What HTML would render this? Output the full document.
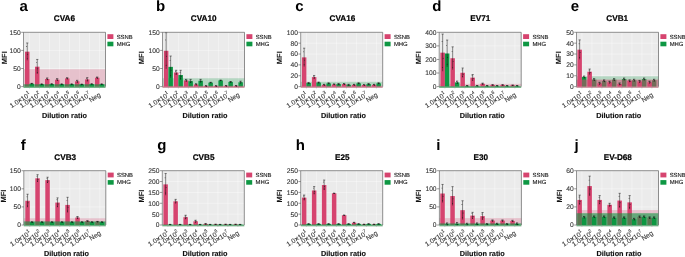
<!DOCTYPE html>
<html><head><meta charset="utf-8"><style>
html,body{margin:0;padding:0;background:#fff;}
svg{display:block;will-change:transform;}
text{font-family:"Liberation Sans", sans-serif;text-rendering:geometricPrecision;}
text.r{stroke-width:0.12px;}
</style></head><body>
<svg width="685" height="257" viewBox="0 0 685 257">
<rect width="685" height="257" fill="#fff"/>
<text x="19.4" y="11.1" font-size="15" font-weight="bold" fill="#000">a</text>
<text x="64.45" y="21.3" font-size="8.2" font-weight="bold" text-anchor="middle" fill="#000" stroke="#000" stroke-width="0.2">CVA6</text>
<text transform="translate(6.55,57.75) rotate(-90)" font-size="7.5" font-weight="bold" text-anchor="middle" fill="#111">MFI</text>
<rect x="23.5" y="32.3" width="82" height="54.3" fill="#EBEBEB"/>
<line x1="23.5" x2="105.5" y1="86.6" y2="86.6" stroke="#fff" stroke-width="0.5" stroke-opacity="0.75"/>
<line x1="23.5" x2="105.5" y1="68.5" y2="68.5" stroke="#fff" stroke-width="0.5" stroke-opacity="0.75"/>
<line x1="23.5" x2="105.5" y1="50.4" y2="50.4" stroke="#fff" stroke-width="0.5" stroke-opacity="0.75"/>
<line x1="23.5" x2="105.5" y1="32.3" y2="32.3" stroke="#fff" stroke-width="0.5" stroke-opacity="0.75"/>
<line x1="29.5" x2="29.5" y1="32.3" y2="86.6" stroke="#fff" stroke-width="0.5" stroke-opacity="0.75"/>
<line x1="39.5" x2="39.5" y1="32.3" y2="86.6" stroke="#fff" stroke-width="0.5" stroke-opacity="0.75"/>
<line x1="49.5" x2="49.5" y1="32.3" y2="86.6" stroke="#fff" stroke-width="0.5" stroke-opacity="0.75"/>
<line x1="59.5" x2="59.5" y1="32.3" y2="86.6" stroke="#fff" stroke-width="0.5" stroke-opacity="0.75"/>
<line x1="69.5" x2="69.5" y1="32.3" y2="86.6" stroke="#fff" stroke-width="0.5" stroke-opacity="0.75"/>
<line x1="79.5" x2="79.5" y1="32.3" y2="86.6" stroke="#fff" stroke-width="0.5" stroke-opacity="0.75"/>
<line x1="89.5" x2="89.5" y1="32.3" y2="86.6" stroke="#fff" stroke-width="0.5" stroke-opacity="0.75"/>
<line x1="99.5" x2="99.5" y1="32.3" y2="86.6" stroke="#fff" stroke-width="0.5" stroke-opacity="0.75"/>
<rect x="23.5" y="69.22" width="82" height="18.68" fill="#D6446F" fill-opacity="0.25"/>
<rect x="25" y="51.67" width="4.5" height="34.93" fill="#D6446F"/>
<rect x="29.5" y="83.7" width="4.5" height="2.9" fill="#0E9743"/>
<rect x="35" y="66.69" width="4.5" height="19.91" fill="#D6446F"/>
<rect x="39.5" y="84.25" width="4.5" height="2.35" fill="#0E9743"/>
<rect x="45" y="79" width="4.5" height="7.6" fill="#D6446F"/>
<rect x="49.5" y="84.07" width="4.5" height="2.53" fill="#0E9743"/>
<rect x="55" y="79.72" width="4.5" height="6.88" fill="#D6446F"/>
<rect x="59.5" y="84.25" width="4.5" height="2.35" fill="#0E9743"/>
<rect x="65" y="78.42" width="4.5" height="8.18" fill="#D6446F"/>
<rect x="69.5" y="84.25" width="4.5" height="2.35" fill="#0E9743"/>
<rect x="75" y="81.35" width="4.5" height="5.25" fill="#D6446F"/>
<rect x="79.5" y="84.43" width="4.5" height="2.17" fill="#0E9743"/>
<rect x="85" y="79.43" width="4.5" height="7.17" fill="#D6446F"/>
<rect x="89.5" y="84.07" width="4.5" height="2.53" fill="#0E9743"/>
<rect x="95" y="77.73" width="4.5" height="8.87" fill="#D6446F"/>
<rect x="99.5" y="84.25" width="4.5" height="2.35" fill="#0E9743"/>
<rect x="23.5" y="84.25" width="82" height="3.65" fill="#0E9743" fill-opacity="0.6"/>
<line x1="27.25" x2="27.25" y1="42.98" y2="60.35" stroke="#000" stroke-width="0.45"/>
<line x1="26.15" x2="28.35" y1="42.98" y2="42.98" stroke="#000" stroke-width="0.45"/>
<circle cx="26.65" cy="46.45" r="0.45" fill="#111"/>
<circle cx="27.75" cy="54.27" r="0.45" fill="#111"/>
<circle cx="27.25" cy="58.62" r="0.45" fill="#111"/>
<line x1="31.75" x2="31.75" y1="83.34" y2="84.07" stroke="#000" stroke-width="0.45"/>
<line x1="30.65" x2="32.85" y1="83.34" y2="83.34" stroke="#000" stroke-width="0.45"/>
<circle cx="31.15" cy="83.49" r="0.45" fill="#111"/>
<circle cx="32.25" cy="83.81" r="0.45" fill="#111"/>
<circle cx="31.75" cy="83.99" r="0.45" fill="#111"/>
<line x1="37.25" x2="37.25" y1="59.45" y2="73.93" stroke="#000" stroke-width="0.45"/>
<line x1="36.15" x2="38.35" y1="59.45" y2="59.45" stroke="#000" stroke-width="0.45"/>
<circle cx="36.65" cy="62.35" r="0.45" fill="#111"/>
<circle cx="37.75" cy="68.86" r="0.45" fill="#111"/>
<circle cx="37.25" cy="72.48" r="0.45" fill="#111"/>
<line x1="41.75" x2="41.75" y1="83.88" y2="84.61" stroke="#000" stroke-width="0.45"/>
<line x1="40.65" x2="42.85" y1="83.88" y2="83.88" stroke="#000" stroke-width="0.45"/>
<circle cx="41.15" cy="84.03" r="0.45" fill="#111"/>
<circle cx="42.25" cy="84.36" r="0.45" fill="#111"/>
<circle cx="41.75" cy="84.54" r="0.45" fill="#111"/>
<line x1="47.25" x2="47.25" y1="77.91" y2="80.08" stroke="#000" stroke-width="0.45"/>
<line x1="46.15" x2="48.35" y1="77.91" y2="77.91" stroke="#000" stroke-width="0.45"/>
<circle cx="46.65" cy="78.35" r="0.45" fill="#111"/>
<circle cx="47.75" cy="79.32" r="0.45" fill="#111"/>
<circle cx="47.25" cy="79.87" r="0.45" fill="#111"/>
<line x1="51.75" x2="51.75" y1="83.7" y2="84.43" stroke="#000" stroke-width="0.45"/>
<line x1="50.65" x2="52.85" y1="83.7" y2="83.7" stroke="#000" stroke-width="0.45"/>
<circle cx="51.15" cy="83.85" r="0.45" fill="#111"/>
<circle cx="52.25" cy="84.17" r="0.45" fill="#111"/>
<circle cx="51.75" cy="84.36" r="0.45" fill="#111"/>
<line x1="57.25" x2="57.25" y1="78.64" y2="80.81" stroke="#000" stroke-width="0.45"/>
<line x1="56.15" x2="58.35" y1="78.64" y2="78.64" stroke="#000" stroke-width="0.45"/>
<circle cx="56.65" cy="79.07" r="0.45" fill="#111"/>
<circle cx="57.75" cy="80.05" r="0.45" fill="#111"/>
<circle cx="57.25" cy="80.59" r="0.45" fill="#111"/>
<line x1="61.75" x2="61.75" y1="83.88" y2="84.61" stroke="#000" stroke-width="0.45"/>
<line x1="60.65" x2="62.85" y1="83.88" y2="83.88" stroke="#000" stroke-width="0.45"/>
<circle cx="61.15" cy="84.03" r="0.45" fill="#111"/>
<circle cx="62.25" cy="84.36" r="0.45" fill="#111"/>
<circle cx="61.75" cy="84.54" r="0.45" fill="#111"/>
<line x1="67.25" x2="67.25" y1="77.69" y2="79.14" stroke="#000" stroke-width="0.45"/>
<line x1="66.15" x2="68.35" y1="77.69" y2="77.69" stroke="#000" stroke-width="0.45"/>
<circle cx="66.65" cy="77.98" r="0.45" fill="#111"/>
<circle cx="67.75" cy="78.64" r="0.45" fill="#111"/>
<circle cx="67.25" cy="79" r="0.45" fill="#111"/>
<line x1="71.75" x2="71.75" y1="83.88" y2="84.61" stroke="#000" stroke-width="0.45"/>
<line x1="70.65" x2="72.85" y1="83.88" y2="83.88" stroke="#000" stroke-width="0.45"/>
<circle cx="71.15" cy="84.03" r="0.45" fill="#111"/>
<circle cx="72.25" cy="84.36" r="0.45" fill="#111"/>
<circle cx="71.75" cy="84.54" r="0.45" fill="#111"/>
<line x1="77.25" x2="77.25" y1="80.27" y2="82.44" stroke="#000" stroke-width="0.45"/>
<line x1="76.15" x2="78.35" y1="80.27" y2="80.27" stroke="#000" stroke-width="0.45"/>
<circle cx="76.65" cy="80.7" r="0.45" fill="#111"/>
<circle cx="77.75" cy="81.68" r="0.45" fill="#111"/>
<circle cx="77.25" cy="82.22" r="0.45" fill="#111"/>
<line x1="81.75" x2="81.75" y1="84.07" y2="84.79" stroke="#000" stroke-width="0.45"/>
<line x1="80.65" x2="82.85" y1="84.07" y2="84.07" stroke="#000" stroke-width="0.45"/>
<circle cx="81.15" cy="84.21" r="0.45" fill="#111"/>
<circle cx="82.25" cy="84.54" r="0.45" fill="#111"/>
<circle cx="81.75" cy="84.72" r="0.45" fill="#111"/>
<line x1="87.25" x2="87.25" y1="77.62" y2="81.24" stroke="#000" stroke-width="0.45"/>
<line x1="86.15" x2="88.35" y1="77.62" y2="77.62" stroke="#000" stroke-width="0.45"/>
<circle cx="86.65" cy="78.35" r="0.45" fill="#111"/>
<circle cx="87.75" cy="79.98" r="0.45" fill="#111"/>
<circle cx="87.25" cy="80.88" r="0.45" fill="#111"/>
<line x1="91.75" x2="91.75" y1="83.7" y2="84.43" stroke="#000" stroke-width="0.45"/>
<line x1="90.65" x2="92.85" y1="83.7" y2="83.7" stroke="#000" stroke-width="0.45"/>
<circle cx="91.15" cy="83.85" r="0.45" fill="#111"/>
<circle cx="92.25" cy="84.17" r="0.45" fill="#111"/>
<circle cx="91.75" cy="84.36" r="0.45" fill="#111"/>
<line x1="97.25" x2="97.25" y1="77.01" y2="78.45" stroke="#000" stroke-width="0.45"/>
<line x1="96.15" x2="98.35" y1="77.01" y2="77.01" stroke="#000" stroke-width="0.45"/>
<circle cx="96.65" cy="77.3" r="0.45" fill="#111"/>
<circle cx="97.75" cy="77.95" r="0.45" fill="#111"/>
<circle cx="97.25" cy="78.31" r="0.45" fill="#111"/>
<line x1="101.75" x2="101.75" y1="83.88" y2="84.61" stroke="#000" stroke-width="0.45"/>
<line x1="100.65" x2="102.85" y1="83.88" y2="83.88" stroke="#000" stroke-width="0.45"/>
<circle cx="101.15" cy="84.03" r="0.45" fill="#111"/>
<circle cx="102.25" cy="84.36" r="0.45" fill="#111"/>
<circle cx="101.75" cy="84.54" r="0.45" fill="#111"/>
<path d="M23.5,32.3H105.5V86.6" fill="none" stroke="#6A6A6A" stroke-width="0.75"/>
<line x1="23.5" x2="23.5" y1="32.3" y2="86.6" stroke="#6A6A6A" stroke-width="0.7"/>
<line x1="21.2" x2="23.5" y1="86.6" y2="86.6" stroke="#363636" stroke-width="0.5"/>
<text x="20.7" y="89.05" font-size="6.7" text-anchor="end" fill="#363636" stroke="#363636" stroke-width="0.12">0</text>
<line x1="21.2" x2="23.5" y1="68.5" y2="68.5" stroke="#363636" stroke-width="0.5"/>
<text x="20.7" y="70.95" font-size="6.7" text-anchor="end" fill="#363636" stroke="#363636" stroke-width="0.12">50</text>
<line x1="21.2" x2="23.5" y1="50.4" y2="50.4" stroke="#363636" stroke-width="0.5"/>
<text x="20.7" y="52.85" font-size="6.7" text-anchor="end" fill="#363636" stroke="#363636" stroke-width="0.12">100</text>
<line x1="21.2" x2="23.5" y1="32.3" y2="32.3" stroke="#363636" stroke-width="0.5"/>
<text x="20.7" y="34.75" font-size="6.7" text-anchor="end" fill="#363636" stroke="#363636" stroke-width="0.12">150</text>
<line x1="29.5" x2="29.5" y1="86.6" y2="88.4" stroke="#999" stroke-width="0.5"/>
<text transform="translate(31.15,95.95) rotate(-32)" font-size="6.7" text-anchor="end" fill="#363636" stroke="#363636" stroke-width="0.1">1.0<tspan font-weight="bold">×</tspan>10<tspan font-size="4.7" dy="-3.3">1</tspan></text>
<line x1="39.5" x2="39.5" y1="86.6" y2="88.4" stroke="#999" stroke-width="0.5"/>
<text transform="translate(41.15,95.95) rotate(-32)" font-size="6.7" text-anchor="end" fill="#363636" stroke="#363636" stroke-width="0.1">1.0<tspan font-weight="bold">×</tspan>10<tspan font-size="4.7" dy="-3.3">2</tspan></text>
<line x1="49.5" x2="49.5" y1="86.6" y2="88.4" stroke="#999" stroke-width="0.5"/>
<text transform="translate(51.15,95.95) rotate(-32)" font-size="6.7" text-anchor="end" fill="#363636" stroke="#363636" stroke-width="0.1">1.0<tspan font-weight="bold">×</tspan>10<tspan font-size="4.7" dy="-3.3">3</tspan></text>
<line x1="59.5" x2="59.5" y1="86.6" y2="88.4" stroke="#999" stroke-width="0.5"/>
<text transform="translate(61.15,95.95) rotate(-32)" font-size="6.7" text-anchor="end" fill="#363636" stroke="#363636" stroke-width="0.1">1.0<tspan font-weight="bold">×</tspan>10<tspan font-size="4.7" dy="-3.3">4</tspan></text>
<line x1="69.5" x2="69.5" y1="86.6" y2="88.4" stroke="#999" stroke-width="0.5"/>
<text transform="translate(71.15,95.95) rotate(-32)" font-size="6.7" text-anchor="end" fill="#363636" stroke="#363636" stroke-width="0.1">1.0<tspan font-weight="bold">×</tspan>10<tspan font-size="4.7" dy="-3.3">5</tspan></text>
<line x1="79.5" x2="79.5" y1="86.6" y2="88.4" stroke="#999" stroke-width="0.5"/>
<text transform="translate(81.15,95.95) rotate(-32)" font-size="6.7" text-anchor="end" fill="#363636" stroke="#363636" stroke-width="0.1">1.0<tspan font-weight="bold">×</tspan>10<tspan font-size="4.7" dy="-3.3">6</tspan></text>
<line x1="89.5" x2="89.5" y1="86.6" y2="88.4" stroke="#999" stroke-width="0.5"/>
<text transform="translate(91.15,95.95) rotate(-32)" font-size="6.7" text-anchor="end" fill="#363636" stroke="#363636" stroke-width="0.1">1.0<tspan font-weight="bold">×</tspan>10<tspan font-size="4.7" dy="-3.3">7</tspan></text>
<line x1="99.5" x2="99.5" y1="86.6" y2="88.4" stroke="#999" stroke-width="0.5"/>
<text transform="translate(101.15,95.95) rotate(-32)" font-size="6.7" text-anchor="end" fill="#363636" stroke="#363636" stroke-width="0.1">Neg</text>
<text x="64.4" y="117.6" font-size="7.3" font-weight="bold" text-anchor="middle" fill="#111" stroke="#111" stroke-width="0.15">Dilution ratio</text>
<rect x="107.4" y="34.2" width="6" height="4.8" fill="#D6446F"/>
<rect x="107.4" y="41.7" width="6" height="4.6" fill="#0E9743"/>
<text x="116.7" y="38.6" font-size="5.9" fill="#1a1a1a" stroke="#1a1a1a" class="r">SSNB</text>
<text x="116.7" y="45.8" font-size="5.9" fill="#1a1a1a" stroke="#1a1a1a" class="r">MHG</text>
<text x="156" y="11.1" font-size="15" font-weight="bold" fill="#000">b</text>
<text x="203.7" y="21.3" font-size="8.2" font-weight="bold" text-anchor="middle" fill="#000" stroke="#000" stroke-width="0.2">CVA10</text>
<text transform="translate(143.95,57.75) rotate(-90)" font-size="7.5" font-weight="bold" text-anchor="middle" fill="#111">MFI</text>
<rect x="162.5" y="32.3" width="82" height="54.3" fill="#EBEBEB"/>
<line x1="162.5" x2="244.5" y1="86.6" y2="86.6" stroke="#fff" stroke-width="0.5" stroke-opacity="0.75"/>
<line x1="162.5" x2="244.5" y1="68.5" y2="68.5" stroke="#fff" stroke-width="0.5" stroke-opacity="0.75"/>
<line x1="162.5" x2="244.5" y1="50.4" y2="50.4" stroke="#fff" stroke-width="0.5" stroke-opacity="0.75"/>
<line x1="162.5" x2="244.5" y1="32.3" y2="32.3" stroke="#fff" stroke-width="0.5" stroke-opacity="0.75"/>
<line x1="168.4" x2="168.4" y1="32.3" y2="86.6" stroke="#fff" stroke-width="0.5" stroke-opacity="0.75"/>
<line x1="178.4" x2="178.4" y1="32.3" y2="86.6" stroke="#fff" stroke-width="0.5" stroke-opacity="0.75"/>
<line x1="188.4" x2="188.4" y1="32.3" y2="86.6" stroke="#fff" stroke-width="0.5" stroke-opacity="0.75"/>
<line x1="198.4" x2="198.4" y1="32.3" y2="86.6" stroke="#fff" stroke-width="0.5" stroke-opacity="0.75"/>
<line x1="208.4" x2="208.4" y1="32.3" y2="86.6" stroke="#fff" stroke-width="0.5" stroke-opacity="0.75"/>
<line x1="218.4" x2="218.4" y1="32.3" y2="86.6" stroke="#fff" stroke-width="0.5" stroke-opacity="0.75"/>
<line x1="228.4" x2="228.4" y1="32.3" y2="86.6" stroke="#fff" stroke-width="0.5" stroke-opacity="0.75"/>
<line x1="238.4" x2="238.4" y1="32.3" y2="86.6" stroke="#fff" stroke-width="0.5" stroke-opacity="0.75"/>
<rect x="162.5" y="78.27" width="82" height="9.63" fill="#0E9743" fill-opacity="0.25"/>
<rect x="163.9" y="50.76" width="4.5" height="35.84" fill="#D6446F"/>
<rect x="168.4" y="66.87" width="4.5" height="19.73" fill="#0E9743"/>
<rect x="173.9" y="72.48" width="4.5" height="14.12" fill="#D6446F"/>
<rect x="178.4" y="75.02" width="4.5" height="11.58" fill="#0E9743"/>
<rect x="183.9" y="80.45" width="4.5" height="6.15" fill="#D6446F"/>
<rect x="188.4" y="81.17" width="4.5" height="5.43" fill="#0E9743"/>
<rect x="193.9" y="84.43" width="4.5" height="2.17" fill="#D6446F"/>
<rect x="198.4" y="80.81" width="4.5" height="5.79" fill="#0E9743"/>
<rect x="203.9" y="85.98" width="4.5" height="0.62" fill="#D6446F"/>
<rect x="208.4" y="82.62" width="4.5" height="3.98" fill="#0E9743"/>
<rect x="213.9" y="85.98" width="4.5" height="0.62" fill="#D6446F"/>
<rect x="218.4" y="80.45" width="4.5" height="6.15" fill="#0E9743"/>
<rect x="223.9" y="85.88" width="4.5" height="0.72" fill="#D6446F"/>
<rect x="228.4" y="81.89" width="4.5" height="4.71" fill="#0E9743"/>
<rect x="233.9" y="85.88" width="4.5" height="0.72" fill="#D6446F"/>
<rect x="238.4" y="82.26" width="4.5" height="4.34" fill="#0E9743"/>
<rect x="162.5" y="85.88" width="82" height="2.02" fill="#D6446F" fill-opacity="0.5"/>
<line x1="166.15" x2="166.15" y1="32.66" y2="68.86" stroke="#000" stroke-width="0.45"/>
<line x1="165.05" x2="167.25" y1="32.66" y2="32.66" stroke="#000" stroke-width="0.45"/>
<circle cx="165.55" cy="39.9" r="0.45" fill="#111"/>
<circle cx="166.65" cy="56.19" r="0.45" fill="#111"/>
<circle cx="166.15" cy="65.24" r="0.45" fill="#111"/>
<line x1="170.65" x2="170.65" y1="56.01" y2="77.73" stroke="#000" stroke-width="0.45"/>
<line x1="169.55" x2="171.75" y1="56.01" y2="56.01" stroke="#000" stroke-width="0.45"/>
<circle cx="170.05" cy="60.35" r="0.45" fill="#111"/>
<circle cx="171.15" cy="70.13" r="0.45" fill="#111"/>
<circle cx="170.65" cy="75.56" r="0.45" fill="#111"/>
<line x1="176.15" x2="176.15" y1="70.31" y2="74.65" stroke="#000" stroke-width="0.45"/>
<line x1="175.05" x2="177.25" y1="70.31" y2="70.31" stroke="#000" stroke-width="0.45"/>
<circle cx="175.55" cy="71.18" r="0.45" fill="#111"/>
<circle cx="176.65" cy="73.13" r="0.45" fill="#111"/>
<circle cx="176.15" cy="74.22" r="0.45" fill="#111"/>
<line x1="180.65" x2="180.65" y1="70.31" y2="79.72" stroke="#000" stroke-width="0.45"/>
<line x1="179.55" x2="181.75" y1="70.31" y2="70.31" stroke="#000" stroke-width="0.45"/>
<circle cx="180.05" cy="72.19" r="0.45" fill="#111"/>
<circle cx="181.15" cy="76.43" r="0.45" fill="#111"/>
<circle cx="180.65" cy="78.78" r="0.45" fill="#111"/>
<line x1="186.15" x2="186.15" y1="79.36" y2="81.53" stroke="#000" stroke-width="0.45"/>
<line x1="185.05" x2="187.25" y1="79.36" y2="79.36" stroke="#000" stroke-width="0.45"/>
<circle cx="185.55" cy="79.79" r="0.45" fill="#111"/>
<circle cx="186.65" cy="80.77" r="0.45" fill="#111"/>
<circle cx="186.15" cy="81.31" r="0.45" fill="#111"/>
<line x1="190.65" x2="190.65" y1="79.36" y2="82.98" stroke="#000" stroke-width="0.45"/>
<line x1="189.55" x2="191.75" y1="79.36" y2="79.36" stroke="#000" stroke-width="0.45"/>
<circle cx="190.05" cy="80.08" r="0.45" fill="#111"/>
<circle cx="191.15" cy="81.71" r="0.45" fill="#111"/>
<circle cx="190.65" cy="82.62" r="0.45" fill="#111"/>
<line x1="196.15" x2="196.15" y1="83.7" y2="85.15" stroke="#000" stroke-width="0.45"/>
<line x1="195.05" x2="197.25" y1="83.7" y2="83.7" stroke="#000" stroke-width="0.45"/>
<circle cx="195.55" cy="83.99" r="0.45" fill="#111"/>
<circle cx="196.65" cy="84.65" r="0.45" fill="#111"/>
<circle cx="196.15" cy="85.01" r="0.45" fill="#111"/>
<line x1="200.65" x2="200.65" y1="79.36" y2="82.26" stroke="#000" stroke-width="0.45"/>
<line x1="199.55" x2="201.75" y1="79.36" y2="79.36" stroke="#000" stroke-width="0.45"/>
<circle cx="200.05" cy="79.94" r="0.45" fill="#111"/>
<circle cx="201.15" cy="81.24" r="0.45" fill="#111"/>
<circle cx="200.65" cy="81.97" r="0.45" fill="#111"/>
<line x1="206.15" x2="206.15" y1="85.62" y2="86.35" stroke="#000" stroke-width="0.45"/>
<line x1="205.05" x2="207.25" y1="85.62" y2="85.62" stroke="#000" stroke-width="0.45"/>
<circle cx="205.55" cy="85.77" r="0.45" fill="#111"/>
<circle cx="206.65" cy="86.09" r="0.45" fill="#111"/>
<circle cx="206.15" cy="86.27" r="0.45" fill="#111"/>
<line x1="210.65" x2="210.65" y1="82.26" y2="82.98" stroke="#000" stroke-width="0.45"/>
<line x1="209.55" x2="211.75" y1="82.26" y2="82.26" stroke="#000" stroke-width="0.45"/>
<circle cx="210.05" cy="82.4" r="0.45" fill="#111"/>
<circle cx="211.15" cy="82.73" r="0.45" fill="#111"/>
<circle cx="210.65" cy="82.91" r="0.45" fill="#111"/>
<line x1="216.15" x2="216.15" y1="85.62" y2="86.35" stroke="#000" stroke-width="0.45"/>
<line x1="215.05" x2="217.25" y1="85.62" y2="85.62" stroke="#000" stroke-width="0.45"/>
<circle cx="215.55" cy="85.77" r="0.45" fill="#111"/>
<circle cx="216.65" cy="86.09" r="0.45" fill="#111"/>
<circle cx="216.15" cy="86.27" r="0.45" fill="#111"/>
<line x1="220.65" x2="220.65" y1="80.08" y2="80.81" stroke="#000" stroke-width="0.45"/>
<line x1="219.55" x2="221.75" y1="80.08" y2="80.08" stroke="#000" stroke-width="0.45"/>
<circle cx="220.05" cy="80.23" r="0.45" fill="#111"/>
<circle cx="221.15" cy="80.55" r="0.45" fill="#111"/>
<circle cx="220.65" cy="80.74" r="0.45" fill="#111"/>
<line x1="226.15" x2="226.15" y1="85.51" y2="86.24" stroke="#000" stroke-width="0.45"/>
<line x1="225.05" x2="227.25" y1="85.51" y2="85.51" stroke="#000" stroke-width="0.45"/>
<circle cx="225.55" cy="85.66" r="0.45" fill="#111"/>
<circle cx="226.65" cy="85.98" r="0.45" fill="#111"/>
<circle cx="226.15" cy="86.17" r="0.45" fill="#111"/>
<line x1="230.65" x2="230.65" y1="81.53" y2="82.26" stroke="#000" stroke-width="0.45"/>
<line x1="229.55" x2="231.75" y1="81.53" y2="81.53" stroke="#000" stroke-width="0.45"/>
<circle cx="230.05" cy="81.68" r="0.45" fill="#111"/>
<circle cx="231.15" cy="82" r="0.45" fill="#111"/>
<circle cx="230.65" cy="82.18" r="0.45" fill="#111"/>
<line x1="236.15" x2="236.15" y1="85.51" y2="86.24" stroke="#000" stroke-width="0.45"/>
<line x1="235.05" x2="237.25" y1="85.51" y2="85.51" stroke="#000" stroke-width="0.45"/>
<circle cx="235.55" cy="85.66" r="0.45" fill="#111"/>
<circle cx="236.65" cy="85.98" r="0.45" fill="#111"/>
<circle cx="236.15" cy="86.17" r="0.45" fill="#111"/>
<line x1="240.65" x2="240.65" y1="81.17" y2="83.34" stroke="#000" stroke-width="0.45"/>
<line x1="239.55" x2="241.75" y1="81.17" y2="81.17" stroke="#000" stroke-width="0.45"/>
<circle cx="240.05" cy="81.6" r="0.45" fill="#111"/>
<circle cx="241.15" cy="82.58" r="0.45" fill="#111"/>
<circle cx="240.65" cy="83.12" r="0.45" fill="#111"/>
<path d="M162.5,32.3H244.5V86.6" fill="none" stroke="#6A6A6A" stroke-width="0.75"/>
<line x1="162.5" x2="162.5" y1="32.3" y2="86.6" stroke="#6A6A6A" stroke-width="0.7"/>
<line x1="160.2" x2="162.5" y1="86.6" y2="86.6" stroke="#363636" stroke-width="0.5"/>
<text x="159.7" y="89.05" font-size="6.7" text-anchor="end" fill="#363636" stroke="#363636" stroke-width="0.12">0</text>
<line x1="160.2" x2="162.5" y1="68.5" y2="68.5" stroke="#363636" stroke-width="0.5"/>
<text x="159.7" y="70.95" font-size="6.7" text-anchor="end" fill="#363636" stroke="#363636" stroke-width="0.12">50</text>
<line x1="160.2" x2="162.5" y1="50.4" y2="50.4" stroke="#363636" stroke-width="0.5"/>
<text x="159.7" y="52.85" font-size="6.7" text-anchor="end" fill="#363636" stroke="#363636" stroke-width="0.12">100</text>
<line x1="160.2" x2="162.5" y1="32.3" y2="32.3" stroke="#363636" stroke-width="0.5"/>
<text x="159.7" y="34.75" font-size="6.7" text-anchor="end" fill="#363636" stroke="#363636" stroke-width="0.12">150</text>
<line x1="168.4" x2="168.4" y1="86.6" y2="88.4" stroke="#999" stroke-width="0.5"/>
<text transform="translate(170.05,95.95) rotate(-32)" font-size="6.7" text-anchor="end" fill="#363636" stroke="#363636" stroke-width="0.1">1.0<tspan font-weight="bold">×</tspan>10<tspan font-size="4.7" dy="-3.3">1</tspan></text>
<line x1="178.4" x2="178.4" y1="86.6" y2="88.4" stroke="#999" stroke-width="0.5"/>
<text transform="translate(180.05,95.95) rotate(-32)" font-size="6.7" text-anchor="end" fill="#363636" stroke="#363636" stroke-width="0.1">1.0<tspan font-weight="bold">×</tspan>10<tspan font-size="4.7" dy="-3.3">2</tspan></text>
<line x1="188.4" x2="188.4" y1="86.6" y2="88.4" stroke="#999" stroke-width="0.5"/>
<text transform="translate(190.05,95.95) rotate(-32)" font-size="6.7" text-anchor="end" fill="#363636" stroke="#363636" stroke-width="0.1">1.0<tspan font-weight="bold">×</tspan>10<tspan font-size="4.7" dy="-3.3">3</tspan></text>
<line x1="198.4" x2="198.4" y1="86.6" y2="88.4" stroke="#999" stroke-width="0.5"/>
<text transform="translate(200.05,95.95) rotate(-32)" font-size="6.7" text-anchor="end" fill="#363636" stroke="#363636" stroke-width="0.1">1.0<tspan font-weight="bold">×</tspan>10<tspan font-size="4.7" dy="-3.3">4</tspan></text>
<line x1="208.4" x2="208.4" y1="86.6" y2="88.4" stroke="#999" stroke-width="0.5"/>
<text transform="translate(210.05,95.95) rotate(-32)" font-size="6.7" text-anchor="end" fill="#363636" stroke="#363636" stroke-width="0.1">1.0<tspan font-weight="bold">×</tspan>10<tspan font-size="4.7" dy="-3.3">5</tspan></text>
<line x1="218.4" x2="218.4" y1="86.6" y2="88.4" stroke="#999" stroke-width="0.5"/>
<text transform="translate(220.05,95.95) rotate(-32)" font-size="6.7" text-anchor="end" fill="#363636" stroke="#363636" stroke-width="0.1">1.0<tspan font-weight="bold">×</tspan>10<tspan font-size="4.7" dy="-3.3">6</tspan></text>
<line x1="228.4" x2="228.4" y1="86.6" y2="88.4" stroke="#999" stroke-width="0.5"/>
<text transform="translate(230.05,95.95) rotate(-32)" font-size="6.7" text-anchor="end" fill="#363636" stroke="#363636" stroke-width="0.1">1.0<tspan font-weight="bold">×</tspan>10<tspan font-size="4.7" dy="-3.3">7</tspan></text>
<line x1="238.4" x2="238.4" y1="86.6" y2="88.4" stroke="#999" stroke-width="0.5"/>
<text transform="translate(240.05,95.95) rotate(-32)" font-size="6.7" text-anchor="end" fill="#363636" stroke="#363636" stroke-width="0.1">Neg</text>
<text x="204.9" y="117.6" font-size="7.3" font-weight="bold" text-anchor="middle" fill="#111" stroke="#111" stroke-width="0.15">Dilution ratio</text>
<rect x="246.4" y="34.2" width="6" height="4.8" fill="#D6446F"/>
<rect x="246.4" y="41.7" width="6" height="4.6" fill="#0E9743"/>
<text x="255.7" y="38.6" font-size="5.9" fill="#1a1a1a" stroke="#1a1a1a" class="r">SSNB</text>
<text x="255.7" y="45.8" font-size="5.9" fill="#1a1a1a" stroke="#1a1a1a" class="r">MHG</text>
<text x="295.2" y="11.1" font-size="15" font-weight="bold" fill="#000">c</text>
<text x="342.4" y="21.3" font-size="8.2" font-weight="bold" text-anchor="middle" fill="#000" stroke="#000" stroke-width="0.2">CVA16</text>
<text transform="translate(282.4,57.75) rotate(-90)" font-size="7.5" font-weight="bold" text-anchor="middle" fill="#111">MFI</text>
<rect x="300.7" y="32.3" width="82" height="54.3" fill="#EBEBEB"/>
<line x1="300.7" x2="382.7" y1="86.6" y2="86.6" stroke="#fff" stroke-width="0.5" stroke-opacity="0.75"/>
<line x1="300.7" x2="382.7" y1="75.74" y2="75.74" stroke="#fff" stroke-width="0.5" stroke-opacity="0.75"/>
<line x1="300.7" x2="382.7" y1="64.88" y2="64.88" stroke="#fff" stroke-width="0.5" stroke-opacity="0.75"/>
<line x1="300.7" x2="382.7" y1="54.02" y2="54.02" stroke="#fff" stroke-width="0.5" stroke-opacity="0.75"/>
<line x1="300.7" x2="382.7" y1="43.16" y2="43.16" stroke="#fff" stroke-width="0.5" stroke-opacity="0.75"/>
<line x1="300.7" x2="382.7" y1="32.3" y2="32.3" stroke="#fff" stroke-width="0.5" stroke-opacity="0.75"/>
<line x1="306.4" x2="306.4" y1="32.3" y2="86.6" stroke="#fff" stroke-width="0.5" stroke-opacity="0.75"/>
<line x1="316.4" x2="316.4" y1="32.3" y2="86.6" stroke="#fff" stroke-width="0.5" stroke-opacity="0.75"/>
<line x1="326.4" x2="326.4" y1="32.3" y2="86.6" stroke="#fff" stroke-width="0.5" stroke-opacity="0.75"/>
<line x1="336.4" x2="336.4" y1="32.3" y2="86.6" stroke="#fff" stroke-width="0.5" stroke-opacity="0.75"/>
<line x1="346.4" x2="346.4" y1="32.3" y2="86.6" stroke="#fff" stroke-width="0.5" stroke-opacity="0.75"/>
<line x1="356.4" x2="356.4" y1="32.3" y2="86.6" stroke="#fff" stroke-width="0.5" stroke-opacity="0.75"/>
<line x1="366.4" x2="366.4" y1="32.3" y2="86.6" stroke="#fff" stroke-width="0.5" stroke-opacity="0.75"/>
<line x1="376.4" x2="376.4" y1="32.3" y2="86.6" stroke="#fff" stroke-width="0.5" stroke-opacity="0.75"/>
<rect x="300.7" y="81.82" width="82" height="6.08" fill="#0E9743" fill-opacity="0.25"/>
<rect x="301.9" y="57.39" width="4.5" height="29.21" fill="#D6446F"/>
<rect x="306.4" y="83.02" width="4.5" height="3.58" fill="#0E9743"/>
<rect x="311.9" y="77.1" width="4.5" height="9.5" fill="#D6446F"/>
<rect x="316.4" y="82.58" width="4.5" height="4.02" fill="#0E9743"/>
<rect x="321.9" y="84.81" width="4.5" height="1.79" fill="#D6446F"/>
<rect x="326.4" y="83.4" width="4.5" height="3.2" fill="#0E9743"/>
<rect x="331.9" y="84.43" width="4.5" height="2.17" fill="#D6446F"/>
<rect x="336.4" y="84.1" width="4.5" height="2.5" fill="#0E9743"/>
<rect x="341.9" y="84.1" width="4.5" height="2.5" fill="#D6446F"/>
<rect x="346.4" y="84.81" width="4.5" height="1.79" fill="#0E9743"/>
<rect x="351.9" y="84.81" width="4.5" height="1.79" fill="#D6446F"/>
<rect x="356.4" y="83.34" width="4.5" height="3.26" fill="#0E9743"/>
<rect x="361.9" y="84.97" width="4.5" height="1.63" fill="#D6446F"/>
<rect x="366.4" y="84.1" width="4.5" height="2.5" fill="#0E9743"/>
<rect x="371.9" y="84.81" width="4.5" height="1.79" fill="#D6446F"/>
<rect x="376.4" y="83.34" width="4.5" height="3.26" fill="#0E9743"/>
<rect x="300.7" y="85.79" width="82" height="2.11" fill="#D6446F" fill-opacity="0.5"/>
<line x1="304.15" x2="304.15" y1="48.16" y2="66.62" stroke="#000" stroke-width="0.45"/>
<line x1="303.05" x2="305.25" y1="48.16" y2="48.16" stroke="#000" stroke-width="0.45"/>
<circle cx="303.55" cy="51.85" r="0.45" fill="#111"/>
<circle cx="304.65" cy="60.16" r="0.45" fill="#111"/>
<circle cx="304.15" cy="64.77" r="0.45" fill="#111"/>
<line x1="308.65" x2="308.65" y1="82.47" y2="83.56" stroke="#000" stroke-width="0.45"/>
<line x1="307.55" x2="309.75" y1="82.47" y2="82.47" stroke="#000" stroke-width="0.45"/>
<circle cx="308.05" cy="82.69" r="0.45" fill="#111"/>
<circle cx="309.15" cy="83.18" r="0.45" fill="#111"/>
<circle cx="308.65" cy="83.45" r="0.45" fill="#111"/>
<line x1="314.15" x2="314.15" y1="75.47" y2="78.73" stroke="#000" stroke-width="0.45"/>
<line x1="313.05" x2="315.25" y1="75.47" y2="75.47" stroke="#000" stroke-width="0.45"/>
<circle cx="313.55" cy="76.12" r="0.45" fill="#111"/>
<circle cx="314.65" cy="77.59" r="0.45" fill="#111"/>
<circle cx="314.15" cy="78.4" r="0.45" fill="#111"/>
<line x1="318.65" x2="318.65" y1="82.04" y2="83.12" stroke="#000" stroke-width="0.45"/>
<line x1="317.55" x2="319.75" y1="82.04" y2="82.04" stroke="#000" stroke-width="0.45"/>
<circle cx="318.05" cy="82.26" r="0.45" fill="#111"/>
<circle cx="319.15" cy="82.74" r="0.45" fill="#111"/>
<circle cx="318.65" cy="83.02" r="0.45" fill="#111"/>
<line x1="324.15" x2="324.15" y1="84.27" y2="85.35" stroke="#000" stroke-width="0.45"/>
<line x1="323.05" x2="325.25" y1="84.27" y2="84.27" stroke="#000" stroke-width="0.45"/>
<circle cx="323.55" cy="84.48" r="0.45" fill="#111"/>
<circle cx="324.65" cy="84.97" r="0.45" fill="#111"/>
<circle cx="324.15" cy="85.24" r="0.45" fill="#111"/>
<line x1="328.65" x2="328.65" y1="82.85" y2="83.94" stroke="#000" stroke-width="0.45"/>
<line x1="327.55" x2="329.75" y1="82.85" y2="82.85" stroke="#000" stroke-width="0.45"/>
<circle cx="328.05" cy="83.07" r="0.45" fill="#111"/>
<circle cx="329.15" cy="83.56" r="0.45" fill="#111"/>
<circle cx="328.65" cy="83.83" r="0.45" fill="#111"/>
<line x1="334.15" x2="334.15" y1="83.88" y2="84.97" stroke="#000" stroke-width="0.45"/>
<line x1="333.05" x2="335.25" y1="83.88" y2="83.88" stroke="#000" stroke-width="0.45"/>
<circle cx="333.55" cy="84.1" r="0.45" fill="#111"/>
<circle cx="334.65" cy="84.59" r="0.45" fill="#111"/>
<circle cx="334.15" cy="84.86" r="0.45" fill="#111"/>
<line x1="338.65" x2="338.65" y1="83.56" y2="84.65" stroke="#000" stroke-width="0.45"/>
<line x1="337.55" x2="339.75" y1="83.56" y2="83.56" stroke="#000" stroke-width="0.45"/>
<circle cx="338.05" cy="83.78" r="0.45" fill="#111"/>
<circle cx="339.15" cy="84.27" r="0.45" fill="#111"/>
<circle cx="338.65" cy="84.54" r="0.45" fill="#111"/>
<line x1="344.15" x2="344.15" y1="83.56" y2="84.65" stroke="#000" stroke-width="0.45"/>
<line x1="343.05" x2="345.25" y1="83.56" y2="83.56" stroke="#000" stroke-width="0.45"/>
<circle cx="343.55" cy="83.78" r="0.45" fill="#111"/>
<circle cx="344.65" cy="84.27" r="0.45" fill="#111"/>
<circle cx="344.15" cy="84.54" r="0.45" fill="#111"/>
<line x1="348.65" x2="348.65" y1="84.27" y2="85.35" stroke="#000" stroke-width="0.45"/>
<line x1="347.55" x2="349.75" y1="84.27" y2="84.27" stroke="#000" stroke-width="0.45"/>
<circle cx="348.05" cy="84.48" r="0.45" fill="#111"/>
<circle cx="349.15" cy="84.97" r="0.45" fill="#111"/>
<circle cx="348.65" cy="85.24" r="0.45" fill="#111"/>
<line x1="354.15" x2="354.15" y1="84.27" y2="85.35" stroke="#000" stroke-width="0.45"/>
<line x1="353.05" x2="355.25" y1="84.27" y2="84.27" stroke="#000" stroke-width="0.45"/>
<circle cx="353.55" cy="84.48" r="0.45" fill="#111"/>
<circle cx="354.65" cy="84.97" r="0.45" fill="#111"/>
<circle cx="354.15" cy="85.24" r="0.45" fill="#111"/>
<line x1="358.65" x2="358.65" y1="82.8" y2="83.88" stroke="#000" stroke-width="0.45"/>
<line x1="357.55" x2="359.75" y1="82.8" y2="82.8" stroke="#000" stroke-width="0.45"/>
<circle cx="358.05" cy="83.02" r="0.45" fill="#111"/>
<circle cx="359.15" cy="83.5" r="0.45" fill="#111"/>
<circle cx="358.65" cy="83.78" r="0.45" fill="#111"/>
<line x1="364.15" x2="364.15" y1="84.43" y2="85.51" stroke="#000" stroke-width="0.45"/>
<line x1="363.05" x2="365.25" y1="84.43" y2="84.43" stroke="#000" stroke-width="0.45"/>
<circle cx="363.55" cy="84.65" r="0.45" fill="#111"/>
<circle cx="364.65" cy="85.13" r="0.45" fill="#111"/>
<circle cx="364.15" cy="85.41" r="0.45" fill="#111"/>
<line x1="368.65" x2="368.65" y1="83.56" y2="84.65" stroke="#000" stroke-width="0.45"/>
<line x1="367.55" x2="369.75" y1="83.56" y2="83.56" stroke="#000" stroke-width="0.45"/>
<circle cx="368.05" cy="83.78" r="0.45" fill="#111"/>
<circle cx="369.15" cy="84.27" r="0.45" fill="#111"/>
<circle cx="368.65" cy="84.54" r="0.45" fill="#111"/>
<line x1="374.15" x2="374.15" y1="84.27" y2="85.35" stroke="#000" stroke-width="0.45"/>
<line x1="373.05" x2="375.25" y1="84.27" y2="84.27" stroke="#000" stroke-width="0.45"/>
<circle cx="373.55" cy="84.48" r="0.45" fill="#111"/>
<circle cx="374.65" cy="84.97" r="0.45" fill="#111"/>
<circle cx="374.15" cy="85.24" r="0.45" fill="#111"/>
<line x1="378.65" x2="378.65" y1="82.8" y2="83.88" stroke="#000" stroke-width="0.45"/>
<line x1="377.55" x2="379.75" y1="82.8" y2="82.8" stroke="#000" stroke-width="0.45"/>
<circle cx="378.05" cy="83.02" r="0.45" fill="#111"/>
<circle cx="379.15" cy="83.5" r="0.45" fill="#111"/>
<circle cx="378.65" cy="83.78" r="0.45" fill="#111"/>
<path d="M300.7,32.3H382.7V86.6" fill="none" stroke="#6A6A6A" stroke-width="0.75"/>
<line x1="300.7" x2="300.7" y1="32.3" y2="86.6" stroke="#6A6A6A" stroke-width="0.7"/>
<line x1="298.4" x2="300.7" y1="86.6" y2="86.6" stroke="#363636" stroke-width="0.5"/>
<text x="297.9" y="89.05" font-size="6.7" text-anchor="end" fill="#363636" stroke="#363636" stroke-width="0.12">0</text>
<line x1="298.4" x2="300.7" y1="75.74" y2="75.74" stroke="#363636" stroke-width="0.5"/>
<text x="297.9" y="78.19" font-size="6.7" text-anchor="end" fill="#363636" stroke="#363636" stroke-width="0.12">20</text>
<line x1="298.4" x2="300.7" y1="64.88" y2="64.88" stroke="#363636" stroke-width="0.5"/>
<text x="297.9" y="67.33" font-size="6.7" text-anchor="end" fill="#363636" stroke="#363636" stroke-width="0.12">40</text>
<line x1="298.4" x2="300.7" y1="54.02" y2="54.02" stroke="#363636" stroke-width="0.5"/>
<text x="297.9" y="56.47" font-size="6.7" text-anchor="end" fill="#363636" stroke="#363636" stroke-width="0.12">60</text>
<line x1="298.4" x2="300.7" y1="43.16" y2="43.16" stroke="#363636" stroke-width="0.5"/>
<text x="297.9" y="45.61" font-size="6.7" text-anchor="end" fill="#363636" stroke="#363636" stroke-width="0.12">80</text>
<line x1="298.4" x2="300.7" y1="32.3" y2="32.3" stroke="#363636" stroke-width="0.5"/>
<text x="297.9" y="34.75" font-size="6.7" text-anchor="end" fill="#363636" stroke="#363636" stroke-width="0.12">100</text>
<line x1="306.4" x2="306.4" y1="86.6" y2="88.4" stroke="#999" stroke-width="0.5"/>
<text transform="translate(308.05,95.95) rotate(-32)" font-size="6.7" text-anchor="end" fill="#363636" stroke="#363636" stroke-width="0.1">1.0<tspan font-weight="bold">×</tspan>10<tspan font-size="4.7" dy="-3.3">1</tspan></text>
<line x1="316.4" x2="316.4" y1="86.6" y2="88.4" stroke="#999" stroke-width="0.5"/>
<text transform="translate(318.05,95.95) rotate(-32)" font-size="6.7" text-anchor="end" fill="#363636" stroke="#363636" stroke-width="0.1">1.0<tspan font-weight="bold">×</tspan>10<tspan font-size="4.7" dy="-3.3">2</tspan></text>
<line x1="326.4" x2="326.4" y1="86.6" y2="88.4" stroke="#999" stroke-width="0.5"/>
<text transform="translate(328.05,95.95) rotate(-32)" font-size="6.7" text-anchor="end" fill="#363636" stroke="#363636" stroke-width="0.1">1.0<tspan font-weight="bold">×</tspan>10<tspan font-size="4.7" dy="-3.3">3</tspan></text>
<line x1="336.4" x2="336.4" y1="86.6" y2="88.4" stroke="#999" stroke-width="0.5"/>
<text transform="translate(338.05,95.95) rotate(-32)" font-size="6.7" text-anchor="end" fill="#363636" stroke="#363636" stroke-width="0.1">1.0<tspan font-weight="bold">×</tspan>10<tspan font-size="4.7" dy="-3.3">4</tspan></text>
<line x1="346.4" x2="346.4" y1="86.6" y2="88.4" stroke="#999" stroke-width="0.5"/>
<text transform="translate(348.05,95.95) rotate(-32)" font-size="6.7" text-anchor="end" fill="#363636" stroke="#363636" stroke-width="0.1">1.0<tspan font-weight="bold">×</tspan>10<tspan font-size="4.7" dy="-3.3">5</tspan></text>
<line x1="356.4" x2="356.4" y1="86.6" y2="88.4" stroke="#999" stroke-width="0.5"/>
<text transform="translate(358.05,95.95) rotate(-32)" font-size="6.7" text-anchor="end" fill="#363636" stroke="#363636" stroke-width="0.1">1.0<tspan font-weight="bold">×</tspan>10<tspan font-size="4.7" dy="-3.3">6</tspan></text>
<line x1="366.4" x2="366.4" y1="86.6" y2="88.4" stroke="#999" stroke-width="0.5"/>
<text transform="translate(368.05,95.95) rotate(-32)" font-size="6.7" text-anchor="end" fill="#363636" stroke="#363636" stroke-width="0.1">1.0<tspan font-weight="bold">×</tspan>10<tspan font-size="4.7" dy="-3.3">7</tspan></text>
<line x1="376.4" x2="376.4" y1="86.6" y2="88.4" stroke="#999" stroke-width="0.5"/>
<text transform="translate(378.05,95.95) rotate(-32)" font-size="6.7" text-anchor="end" fill="#363636" stroke="#363636" stroke-width="0.1">Neg</text>
<text x="343.4" y="117.6" font-size="7.3" font-weight="bold" text-anchor="middle" fill="#111" stroke="#111" stroke-width="0.15">Dilution ratio</text>
<rect x="384.6" y="34.2" width="6" height="4.8" fill="#D6446F"/>
<rect x="384.6" y="41.7" width="6" height="4.6" fill="#0E9743"/>
<text x="393.9" y="38.6" font-size="5.9" fill="#1a1a1a" stroke="#1a1a1a" class="r">SSNB</text>
<text x="393.9" y="45.8" font-size="5.9" fill="#1a1a1a" stroke="#1a1a1a" class="r">MHG</text>
<text x="432.2" y="11.1" font-size="15" font-weight="bold" fill="#000">d</text>
<text x="480.3" y="21.3" font-size="8.2" font-weight="bold" text-anchor="middle" fill="#000" stroke="#000" stroke-width="0.2">EV71</text>
<text transform="translate(420.7,57.75) rotate(-90)" font-size="7.5" font-weight="bold" text-anchor="middle" fill="#111">MFI</text>
<rect x="439.2" y="32.3" width="82" height="54.3" fill="#EBEBEB"/>
<line x1="439.2" x2="521.2" y1="86.6" y2="86.6" stroke="#fff" stroke-width="0.5" stroke-opacity="0.75"/>
<line x1="439.2" x2="521.2" y1="73.02" y2="73.02" stroke="#fff" stroke-width="0.5" stroke-opacity="0.75"/>
<line x1="439.2" x2="521.2" y1="59.45" y2="59.45" stroke="#fff" stroke-width="0.5" stroke-opacity="0.75"/>
<line x1="439.2" x2="521.2" y1="45.88" y2="45.88" stroke="#fff" stroke-width="0.5" stroke-opacity="0.75"/>
<line x1="439.2" x2="521.2" y1="32.3" y2="32.3" stroke="#fff" stroke-width="0.5" stroke-opacity="0.75"/>
<line x1="444.9" x2="444.9" y1="32.3" y2="86.6" stroke="#fff" stroke-width="0.5" stroke-opacity="0.75"/>
<line x1="454.9" x2="454.9" y1="32.3" y2="86.6" stroke="#fff" stroke-width="0.5" stroke-opacity="0.75"/>
<line x1="464.9" x2="464.9" y1="32.3" y2="86.6" stroke="#fff" stroke-width="0.5" stroke-opacity="0.75"/>
<line x1="474.9" x2="474.9" y1="32.3" y2="86.6" stroke="#fff" stroke-width="0.5" stroke-opacity="0.75"/>
<line x1="484.9" x2="484.9" y1="32.3" y2="86.6" stroke="#fff" stroke-width="0.5" stroke-opacity="0.75"/>
<line x1="494.9" x2="494.9" y1="32.3" y2="86.6" stroke="#fff" stroke-width="0.5" stroke-opacity="0.75"/>
<line x1="504.9" x2="504.9" y1="32.3" y2="86.6" stroke="#fff" stroke-width="0.5" stroke-opacity="0.75"/>
<line x1="514.9" x2="514.9" y1="32.3" y2="86.6" stroke="#fff" stroke-width="0.5" stroke-opacity="0.75"/>
<rect x="439.2" y="83.88" width="82" height="4.01" fill="#D6446F" fill-opacity="0.25"/>
<rect x="440.4" y="52.66" width="4.5" height="33.94" fill="#D6446F"/>
<rect x="444.9" y="53.48" width="4.5" height="33.12" fill="#0E9743"/>
<rect x="450.4" y="58.23" width="4.5" height="28.37" fill="#D6446F"/>
<rect x="454.9" y="82.39" width="4.5" height="4.21" fill="#0E9743"/>
<rect x="460.4" y="72.75" width="4.5" height="13.85" fill="#D6446F"/>
<rect x="464.9" y="85.79" width="4.5" height="0.81" fill="#0E9743"/>
<rect x="470.4" y="77.64" width="4.5" height="8.96" fill="#D6446F"/>
<rect x="474.9" y="85.79" width="4.5" height="0.81" fill="#0E9743"/>
<rect x="480.4" y="83.75" width="4.5" height="2.85" fill="#D6446F"/>
<rect x="484.9" y="85.79" width="4.5" height="0.81" fill="#0E9743"/>
<rect x="490.4" y="84.97" width="4.5" height="1.63" fill="#D6446F"/>
<rect x="494.9" y="85.79" width="4.5" height="0.81" fill="#0E9743"/>
<rect x="500.4" y="84.97" width="4.5" height="1.63" fill="#D6446F"/>
<rect x="504.9" y="85.79" width="4.5" height="0.81" fill="#0E9743"/>
<rect x="510.4" y="85.24" width="4.5" height="1.36" fill="#D6446F"/>
<rect x="514.9" y="85.79" width="4.5" height="0.81" fill="#0E9743"/>
<rect x="439.2" y="86.19" width="82" height="1.71" fill="#0E9743" fill-opacity="0.6"/>
<line x1="442.65" x2="442.65" y1="34.06" y2="71.26" stroke="#000" stroke-width="0.45"/>
<line x1="441.55" x2="443.75" y1="34.06" y2="34.06" stroke="#000" stroke-width="0.45"/>
<circle cx="442.05" cy="41.5" r="0.45" fill="#111"/>
<circle cx="443.15" cy="58.24" r="0.45" fill="#111"/>
<circle cx="442.65" cy="67.54" r="0.45" fill="#111"/>
<line x1="447.15" x2="447.15" y1="40.04" y2="66.92" stroke="#000" stroke-width="0.45"/>
<line x1="446.05" x2="448.25" y1="40.04" y2="40.04" stroke="#000" stroke-width="0.45"/>
<circle cx="446.55" cy="45.41" r="0.45" fill="#111"/>
<circle cx="447.65" cy="57.51" r="0.45" fill="#111"/>
<circle cx="447.15" cy="64.23" r="0.45" fill="#111"/>
<line x1="452.65" x2="452.65" y1="46.83" y2="69.63" stroke="#000" stroke-width="0.45"/>
<line x1="451.55" x2="453.75" y1="46.83" y2="46.83" stroke="#000" stroke-width="0.45"/>
<circle cx="452.05" cy="51.39" r="0.45" fill="#111"/>
<circle cx="453.15" cy="61.65" r="0.45" fill="#111"/>
<circle cx="452.65" cy="67.35" r="0.45" fill="#111"/>
<line x1="457.15" x2="457.15" y1="81.03" y2="83.75" stroke="#000" stroke-width="0.45"/>
<line x1="456.05" x2="458.25" y1="81.03" y2="81.03" stroke="#000" stroke-width="0.45"/>
<circle cx="456.55" cy="81.58" r="0.45" fill="#111"/>
<circle cx="457.65" cy="82.8" r="0.45" fill="#111"/>
<circle cx="457.15" cy="83.48" r="0.45" fill="#111"/>
<line x1="462.65" x2="462.65" y1="68" y2="77.5" stroke="#000" stroke-width="0.45"/>
<line x1="461.55" x2="463.75" y1="68" y2="68" stroke="#000" stroke-width="0.45"/>
<circle cx="462.05" cy="69.9" r="0.45" fill="#111"/>
<circle cx="463.15" cy="74.18" r="0.45" fill="#111"/>
<circle cx="462.65" cy="76.55" r="0.45" fill="#111"/>
<line x1="467.15" x2="467.15" y1="85.51" y2="86.06" stroke="#000" stroke-width="0.45"/>
<line x1="466.05" x2="468.25" y1="85.51" y2="85.51" stroke="#000" stroke-width="0.45"/>
<circle cx="466.55" cy="85.62" r="0.45" fill="#111"/>
<circle cx="467.65" cy="85.87" r="0.45" fill="#111"/>
<circle cx="467.15" cy="86" r="0.45" fill="#111"/>
<line x1="472.65" x2="472.65" y1="74.52" y2="80.76" stroke="#000" stroke-width="0.45"/>
<line x1="471.55" x2="473.75" y1="74.52" y2="74.52" stroke="#000" stroke-width="0.45"/>
<circle cx="472.05" cy="75.77" r="0.45" fill="#111"/>
<circle cx="473.15" cy="78.58" r="0.45" fill="#111"/>
<circle cx="472.65" cy="80.14" r="0.45" fill="#111"/>
<line x1="477.15" x2="477.15" y1="85.51" y2="86.06" stroke="#000" stroke-width="0.45"/>
<line x1="476.05" x2="478.25" y1="85.51" y2="85.51" stroke="#000" stroke-width="0.45"/>
<circle cx="476.55" cy="85.62" r="0.45" fill="#111"/>
<circle cx="477.65" cy="85.87" r="0.45" fill="#111"/>
<circle cx="477.15" cy="86" r="0.45" fill="#111"/>
<line x1="482.65" x2="482.65" y1="83.07" y2="84.43" stroke="#000" stroke-width="0.45"/>
<line x1="481.55" x2="483.75" y1="83.07" y2="83.07" stroke="#000" stroke-width="0.45"/>
<circle cx="482.05" cy="83.34" r="0.45" fill="#111"/>
<circle cx="483.15" cy="83.95" r="0.45" fill="#111"/>
<circle cx="482.65" cy="84.29" r="0.45" fill="#111"/>
<line x1="487.15" x2="487.15" y1="85.51" y2="86.06" stroke="#000" stroke-width="0.45"/>
<line x1="486.05" x2="488.25" y1="85.51" y2="85.51" stroke="#000" stroke-width="0.45"/>
<circle cx="486.55" cy="85.62" r="0.45" fill="#111"/>
<circle cx="487.65" cy="85.87" r="0.45" fill="#111"/>
<circle cx="487.15" cy="86" r="0.45" fill="#111"/>
<line x1="492.65" x2="492.65" y1="84.7" y2="85.24" stroke="#000" stroke-width="0.45"/>
<line x1="491.55" x2="493.75" y1="84.7" y2="84.7" stroke="#000" stroke-width="0.45"/>
<circle cx="492.05" cy="84.81" r="0.45" fill="#111"/>
<circle cx="493.15" cy="85.05" r="0.45" fill="#111"/>
<circle cx="492.65" cy="85.19" r="0.45" fill="#111"/>
<line x1="497.15" x2="497.15" y1="85.51" y2="86.06" stroke="#000" stroke-width="0.45"/>
<line x1="496.05" x2="498.25" y1="85.51" y2="85.51" stroke="#000" stroke-width="0.45"/>
<circle cx="496.55" cy="85.62" r="0.45" fill="#111"/>
<circle cx="497.65" cy="85.87" r="0.45" fill="#111"/>
<circle cx="497.15" cy="86" r="0.45" fill="#111"/>
<line x1="502.65" x2="502.65" y1="84.7" y2="85.24" stroke="#000" stroke-width="0.45"/>
<line x1="501.55" x2="503.75" y1="84.7" y2="84.7" stroke="#000" stroke-width="0.45"/>
<circle cx="502.05" cy="84.81" r="0.45" fill="#111"/>
<circle cx="503.15" cy="85.05" r="0.45" fill="#111"/>
<circle cx="502.65" cy="85.19" r="0.45" fill="#111"/>
<line x1="507.15" x2="507.15" y1="85.51" y2="86.06" stroke="#000" stroke-width="0.45"/>
<line x1="506.05" x2="508.25" y1="85.51" y2="85.51" stroke="#000" stroke-width="0.45"/>
<circle cx="506.55" cy="85.62" r="0.45" fill="#111"/>
<circle cx="507.65" cy="85.87" r="0.45" fill="#111"/>
<circle cx="507.15" cy="86" r="0.45" fill="#111"/>
<line x1="512.65" x2="512.65" y1="84.97" y2="85.51" stroke="#000" stroke-width="0.45"/>
<line x1="511.55" x2="513.75" y1="84.97" y2="84.97" stroke="#000" stroke-width="0.45"/>
<circle cx="512.05" cy="85.08" r="0.45" fill="#111"/>
<circle cx="513.15" cy="85.32" r="0.45" fill="#111"/>
<circle cx="512.65" cy="85.46" r="0.45" fill="#111"/>
<line x1="517.15" x2="517.15" y1="85.51" y2="86.06" stroke="#000" stroke-width="0.45"/>
<line x1="516.05" x2="518.25" y1="85.51" y2="85.51" stroke="#000" stroke-width="0.45"/>
<circle cx="516.55" cy="85.62" r="0.45" fill="#111"/>
<circle cx="517.65" cy="85.87" r="0.45" fill="#111"/>
<circle cx="517.15" cy="86" r="0.45" fill="#111"/>
<path d="M439.2,32.3H521.2V86.6" fill="none" stroke="#6A6A6A" stroke-width="0.75"/>
<line x1="439.2" x2="439.2" y1="32.3" y2="86.6" stroke="#6A6A6A" stroke-width="0.7"/>
<line x1="436.9" x2="439.2" y1="86.6" y2="86.6" stroke="#363636" stroke-width="0.5"/>
<text x="436.4" y="89.05" font-size="6.7" text-anchor="end" fill="#363636" stroke="#363636" stroke-width="0.12">0</text>
<line x1="436.9" x2="439.2" y1="73.02" y2="73.02" stroke="#363636" stroke-width="0.5"/>
<text x="436.4" y="75.47" font-size="6.7" text-anchor="end" fill="#363636" stroke="#363636" stroke-width="0.12">100</text>
<line x1="436.9" x2="439.2" y1="59.45" y2="59.45" stroke="#363636" stroke-width="0.5"/>
<text x="436.4" y="61.9" font-size="6.7" text-anchor="end" fill="#363636" stroke="#363636" stroke-width="0.12">200</text>
<line x1="436.9" x2="439.2" y1="45.88" y2="45.88" stroke="#363636" stroke-width="0.5"/>
<text x="436.4" y="48.33" font-size="6.7" text-anchor="end" fill="#363636" stroke="#363636" stroke-width="0.12">300</text>
<line x1="436.9" x2="439.2" y1="32.3" y2="32.3" stroke="#363636" stroke-width="0.5"/>
<text x="436.4" y="34.75" font-size="6.7" text-anchor="end" fill="#363636" stroke="#363636" stroke-width="0.12">400</text>
<line x1="444.9" x2="444.9" y1="86.6" y2="88.4" stroke="#999" stroke-width="0.5"/>
<text transform="translate(446.55,95.95) rotate(-32)" font-size="6.7" text-anchor="end" fill="#363636" stroke="#363636" stroke-width="0.1">1.0<tspan font-weight="bold">×</tspan>10<tspan font-size="4.7" dy="-3.3">1</tspan></text>
<line x1="454.9" x2="454.9" y1="86.6" y2="88.4" stroke="#999" stroke-width="0.5"/>
<text transform="translate(456.55,95.95) rotate(-32)" font-size="6.7" text-anchor="end" fill="#363636" stroke="#363636" stroke-width="0.1">1.0<tspan font-weight="bold">×</tspan>10<tspan font-size="4.7" dy="-3.3">2</tspan></text>
<line x1="464.9" x2="464.9" y1="86.6" y2="88.4" stroke="#999" stroke-width="0.5"/>
<text transform="translate(466.55,95.95) rotate(-32)" font-size="6.7" text-anchor="end" fill="#363636" stroke="#363636" stroke-width="0.1">1.0<tspan font-weight="bold">×</tspan>10<tspan font-size="4.7" dy="-3.3">3</tspan></text>
<line x1="474.9" x2="474.9" y1="86.6" y2="88.4" stroke="#999" stroke-width="0.5"/>
<text transform="translate(476.55,95.95) rotate(-32)" font-size="6.7" text-anchor="end" fill="#363636" stroke="#363636" stroke-width="0.1">1.0<tspan font-weight="bold">×</tspan>10<tspan font-size="4.7" dy="-3.3">4</tspan></text>
<line x1="484.9" x2="484.9" y1="86.6" y2="88.4" stroke="#999" stroke-width="0.5"/>
<text transform="translate(486.55,95.95) rotate(-32)" font-size="6.7" text-anchor="end" fill="#363636" stroke="#363636" stroke-width="0.1">1.0<tspan font-weight="bold">×</tspan>10<tspan font-size="4.7" dy="-3.3">5</tspan></text>
<line x1="494.9" x2="494.9" y1="86.6" y2="88.4" stroke="#999" stroke-width="0.5"/>
<text transform="translate(496.55,95.95) rotate(-32)" font-size="6.7" text-anchor="end" fill="#363636" stroke="#363636" stroke-width="0.1">1.0<tspan font-weight="bold">×</tspan>10<tspan font-size="4.7" dy="-3.3">6</tspan></text>
<line x1="504.9" x2="504.9" y1="86.6" y2="88.4" stroke="#999" stroke-width="0.5"/>
<text transform="translate(506.55,95.95) rotate(-32)" font-size="6.7" text-anchor="end" fill="#363636" stroke="#363636" stroke-width="0.1">1.0<tspan font-weight="bold">×</tspan>10<tspan font-size="4.7" dy="-3.3">7</tspan></text>
<line x1="514.9" x2="514.9" y1="86.6" y2="88.4" stroke="#999" stroke-width="0.5"/>
<text transform="translate(516.55,95.95) rotate(-32)" font-size="6.7" text-anchor="end" fill="#363636" stroke="#363636" stroke-width="0.1">Neg</text>
<text x="482.2" y="117.6" font-size="7.3" font-weight="bold" text-anchor="middle" fill="#111" stroke="#111" stroke-width="0.15">Dilution ratio</text>
<rect x="523.1" y="34.2" width="6" height="4.8" fill="#D6446F"/>
<rect x="523.1" y="41.7" width="6" height="4.6" fill="#0E9743"/>
<text x="532.4" y="38.6" font-size="5.9" fill="#1a1a1a" stroke="#1a1a1a" class="r">SSNB</text>
<text x="532.4" y="45.8" font-size="5.9" fill="#1a1a1a" stroke="#1a1a1a" class="r">MHG</text>
<text x="570.8" y="11.1" font-size="15" font-weight="bold" fill="#000">e</text>
<text x="617.2" y="21.3" font-size="8.2" font-weight="bold" text-anchor="middle" fill="#000" stroke="#000" stroke-width="0.2">CVB1</text>
<text transform="translate(561.4,57.75) rotate(-90)" font-size="7.5" font-weight="bold" text-anchor="middle" fill="#111">MFI</text>
<rect x="576.5" y="32.3" width="82" height="54.3" fill="#EBEBEB"/>
<line x1="576.5" x2="658.5" y1="86.6" y2="86.6" stroke="#fff" stroke-width="0.5" stroke-opacity="0.75"/>
<line x1="576.5" x2="658.5" y1="75.74" y2="75.74" stroke="#fff" stroke-width="0.5" stroke-opacity="0.75"/>
<line x1="576.5" x2="658.5" y1="64.88" y2="64.88" stroke="#fff" stroke-width="0.5" stroke-opacity="0.75"/>
<line x1="576.5" x2="658.5" y1="54.02" y2="54.02" stroke="#fff" stroke-width="0.5" stroke-opacity="0.75"/>
<line x1="576.5" x2="658.5" y1="43.16" y2="43.16" stroke="#fff" stroke-width="0.5" stroke-opacity="0.75"/>
<line x1="576.5" x2="658.5" y1="32.3" y2="32.3" stroke="#fff" stroke-width="0.5" stroke-opacity="0.75"/>
<line x1="581.9" x2="581.9" y1="32.3" y2="86.6" stroke="#fff" stroke-width="0.5" stroke-opacity="0.75"/>
<line x1="591.9" x2="591.9" y1="32.3" y2="86.6" stroke="#fff" stroke-width="0.5" stroke-opacity="0.75"/>
<line x1="601.9" x2="601.9" y1="32.3" y2="86.6" stroke="#fff" stroke-width="0.5" stroke-opacity="0.75"/>
<line x1="611.9" x2="611.9" y1="32.3" y2="86.6" stroke="#fff" stroke-width="0.5" stroke-opacity="0.75"/>
<line x1="621.9" x2="621.9" y1="32.3" y2="86.6" stroke="#fff" stroke-width="0.5" stroke-opacity="0.75"/>
<line x1="631.9" x2="631.9" y1="32.3" y2="86.6" stroke="#fff" stroke-width="0.5" stroke-opacity="0.75"/>
<line x1="641.9" x2="641.9" y1="32.3" y2="86.6" stroke="#fff" stroke-width="0.5" stroke-opacity="0.75"/>
<line x1="651.9" x2="651.9" y1="32.3" y2="86.6" stroke="#fff" stroke-width="0.5" stroke-opacity="0.75"/>
<rect x="576.5" y="76.28" width="82" height="11.62" fill="#0E9743" fill-opacity="0.25"/>
<rect x="577.4" y="49.68" width="4.5" height="36.92" fill="#D6446F"/>
<rect x="581.9" y="77.04" width="4.5" height="9.56" fill="#0E9743"/>
<rect x="587.4" y="71.72" width="4.5" height="14.88" fill="#D6446F"/>
<rect x="591.9" y="79.65" width="4.5" height="6.95" fill="#0E9743"/>
<rect x="597.4" y="83.34" width="4.5" height="3.26" fill="#D6446F"/>
<rect x="601.9" y="80.95" width="4.5" height="5.65" fill="#0E9743"/>
<rect x="607.4" y="82.26" width="4.5" height="4.34" fill="#D6446F"/>
<rect x="611.9" y="79.65" width="4.5" height="6.95" fill="#0E9743"/>
<rect x="617.4" y="83.99" width="4.5" height="2.61" fill="#D6446F"/>
<rect x="621.9" y="79.11" width="4.5" height="7.49" fill="#0E9743"/>
<rect x="627.4" y="80.95" width="4.5" height="5.65" fill="#D6446F"/>
<rect x="631.9" y="80.3" width="4.5" height="6.3" fill="#0E9743"/>
<rect x="637.4" y="81.5" width="4.5" height="5.1" fill="#D6446F"/>
<rect x="641.9" y="79.11" width="4.5" height="7.49" fill="#0E9743"/>
<rect x="647.4" y="82.26" width="4.5" height="4.34" fill="#D6446F"/>
<rect x="651.9" y="80.3" width="4.5" height="6.3" fill="#0E9743"/>
<rect x="576.5" y="79.65" width="82" height="8.25" fill="#D6446F" fill-opacity="0.5"/>
<line x1="579.65" x2="579.65" y1="39.9" y2="59.45" stroke="#000" stroke-width="0.45"/>
<line x1="578.55" x2="580.75" y1="39.9" y2="39.9" stroke="#000" stroke-width="0.45"/>
<circle cx="579.05" cy="43.81" r="0.45" fill="#111"/>
<circle cx="580.15" cy="52.61" r="0.45" fill="#111"/>
<circle cx="579.65" cy="57.5" r="0.45" fill="#111"/>
<line x1="584.15" x2="584.15" y1="75.96" y2="78.13" stroke="#000" stroke-width="0.45"/>
<line x1="583.05" x2="585.25" y1="75.96" y2="75.96" stroke="#000" stroke-width="0.45"/>
<circle cx="583.55" cy="76.39" r="0.45" fill="#111"/>
<circle cx="584.65" cy="77.37" r="0.45" fill="#111"/>
<circle cx="584.15" cy="77.91" r="0.45" fill="#111"/>
<line x1="589.65" x2="589.65" y1="69.01" y2="74.44" stroke="#000" stroke-width="0.45"/>
<line x1="588.55" x2="590.75" y1="69.01" y2="69.01" stroke="#000" stroke-width="0.45"/>
<circle cx="589.05" cy="70.09" r="0.45" fill="#111"/>
<circle cx="590.15" cy="72.54" r="0.45" fill="#111"/>
<circle cx="589.65" cy="73.89" r="0.45" fill="#111"/>
<line x1="594.15" x2="594.15" y1="78.56" y2="80.74" stroke="#000" stroke-width="0.45"/>
<line x1="593.05" x2="595.25" y1="78.56" y2="78.56" stroke="#000" stroke-width="0.45"/>
<circle cx="593.55" cy="79" r="0.45" fill="#111"/>
<circle cx="594.65" cy="79.98" r="0.45" fill="#111"/>
<circle cx="594.15" cy="80.52" r="0.45" fill="#111"/>
<line x1="599.65" x2="599.65" y1="82.26" y2="84.43" stroke="#000" stroke-width="0.45"/>
<line x1="598.55" x2="600.75" y1="82.26" y2="82.26" stroke="#000" stroke-width="0.45"/>
<circle cx="599.05" cy="82.69" r="0.45" fill="#111"/>
<circle cx="600.15" cy="83.67" r="0.45" fill="#111"/>
<circle cx="599.65" cy="84.21" r="0.45" fill="#111"/>
<line x1="604.15" x2="604.15" y1="79.87" y2="82.04" stroke="#000" stroke-width="0.45"/>
<line x1="603.05" x2="605.25" y1="79.87" y2="79.87" stroke="#000" stroke-width="0.45"/>
<circle cx="603.55" cy="80.3" r="0.45" fill="#111"/>
<circle cx="604.65" cy="81.28" r="0.45" fill="#111"/>
<circle cx="604.15" cy="81.82" r="0.45" fill="#111"/>
<line x1="609.65" x2="609.65" y1="81.17" y2="83.34" stroke="#000" stroke-width="0.45"/>
<line x1="608.55" x2="610.75" y1="81.17" y2="81.17" stroke="#000" stroke-width="0.45"/>
<circle cx="609.05" cy="81.6" r="0.45" fill="#111"/>
<circle cx="610.15" cy="82.58" r="0.45" fill="#111"/>
<circle cx="609.65" cy="83.12" r="0.45" fill="#111"/>
<line x1="614.15" x2="614.15" y1="78.56" y2="80.74" stroke="#000" stroke-width="0.45"/>
<line x1="613.05" x2="615.25" y1="78.56" y2="78.56" stroke="#000" stroke-width="0.45"/>
<circle cx="613.55" cy="79" r="0.45" fill="#111"/>
<circle cx="614.65" cy="79.98" r="0.45" fill="#111"/>
<circle cx="614.15" cy="80.52" r="0.45" fill="#111"/>
<line x1="619.65" x2="619.65" y1="82.91" y2="85.08" stroke="#000" stroke-width="0.45"/>
<line x1="618.55" x2="620.75" y1="82.91" y2="82.91" stroke="#000" stroke-width="0.45"/>
<circle cx="619.05" cy="83.34" r="0.45" fill="#111"/>
<circle cx="620.15" cy="84.32" r="0.45" fill="#111"/>
<circle cx="619.65" cy="84.86" r="0.45" fill="#111"/>
<line x1="624.15" x2="624.15" y1="78.02" y2="80.19" stroke="#000" stroke-width="0.45"/>
<line x1="623.05" x2="625.25" y1="78.02" y2="78.02" stroke="#000" stroke-width="0.45"/>
<circle cx="623.55" cy="78.45" r="0.45" fill="#111"/>
<circle cx="624.65" cy="79.43" r="0.45" fill="#111"/>
<circle cx="624.15" cy="79.98" r="0.45" fill="#111"/>
<line x1="629.65" x2="629.65" y1="79.87" y2="82.04" stroke="#000" stroke-width="0.45"/>
<line x1="628.55" x2="630.75" y1="79.87" y2="79.87" stroke="#000" stroke-width="0.45"/>
<circle cx="629.05" cy="80.3" r="0.45" fill="#111"/>
<circle cx="630.15" cy="81.28" r="0.45" fill="#111"/>
<circle cx="629.65" cy="81.82" r="0.45" fill="#111"/>
<line x1="634.15" x2="634.15" y1="79.22" y2="81.39" stroke="#000" stroke-width="0.45"/>
<line x1="633.05" x2="635.25" y1="79.22" y2="79.22" stroke="#000" stroke-width="0.45"/>
<circle cx="633.55" cy="79.65" r="0.45" fill="#111"/>
<circle cx="634.65" cy="80.63" r="0.45" fill="#111"/>
<circle cx="634.15" cy="81.17" r="0.45" fill="#111"/>
<line x1="639.65" x2="639.65" y1="80.41" y2="82.58" stroke="#000" stroke-width="0.45"/>
<line x1="638.55" x2="640.75" y1="80.41" y2="80.41" stroke="#000" stroke-width="0.45"/>
<circle cx="639.05" cy="80.84" r="0.45" fill="#111"/>
<circle cx="640.15" cy="81.82" r="0.45" fill="#111"/>
<circle cx="639.65" cy="82.36" r="0.45" fill="#111"/>
<line x1="644.15" x2="644.15" y1="78.02" y2="80.19" stroke="#000" stroke-width="0.45"/>
<line x1="643.05" x2="645.25" y1="78.02" y2="78.02" stroke="#000" stroke-width="0.45"/>
<circle cx="643.55" cy="78.45" r="0.45" fill="#111"/>
<circle cx="644.65" cy="79.43" r="0.45" fill="#111"/>
<circle cx="644.15" cy="79.98" r="0.45" fill="#111"/>
<line x1="649.65" x2="649.65" y1="81.17" y2="83.34" stroke="#000" stroke-width="0.45"/>
<line x1="648.55" x2="650.75" y1="81.17" y2="81.17" stroke="#000" stroke-width="0.45"/>
<circle cx="649.05" cy="81.6" r="0.45" fill="#111"/>
<circle cx="650.15" cy="82.58" r="0.45" fill="#111"/>
<circle cx="649.65" cy="83.12" r="0.45" fill="#111"/>
<line x1="654.15" x2="654.15" y1="79.22" y2="81.39" stroke="#000" stroke-width="0.45"/>
<line x1="653.05" x2="655.25" y1="79.22" y2="79.22" stroke="#000" stroke-width="0.45"/>
<circle cx="653.55" cy="79.65" r="0.45" fill="#111"/>
<circle cx="654.65" cy="80.63" r="0.45" fill="#111"/>
<circle cx="654.15" cy="81.17" r="0.45" fill="#111"/>
<path d="M576.5,32.3H658.5V86.6" fill="none" stroke="#6A6A6A" stroke-width="0.75"/>
<line x1="576.5" x2="576.5" y1="32.3" y2="86.6" stroke="#6A6A6A" stroke-width="0.7"/>
<line x1="574.2" x2="576.5" y1="86.6" y2="86.6" stroke="#363636" stroke-width="0.5"/>
<text x="573.7" y="89.05" font-size="6.7" text-anchor="end" fill="#363636" stroke="#363636" stroke-width="0.12">0</text>
<line x1="574.2" x2="576.5" y1="75.74" y2="75.74" stroke="#363636" stroke-width="0.5"/>
<text x="573.7" y="78.19" font-size="6.7" text-anchor="end" fill="#363636" stroke="#363636" stroke-width="0.12">10</text>
<line x1="574.2" x2="576.5" y1="64.88" y2="64.88" stroke="#363636" stroke-width="0.5"/>
<text x="573.7" y="67.33" font-size="6.7" text-anchor="end" fill="#363636" stroke="#363636" stroke-width="0.12">20</text>
<line x1="574.2" x2="576.5" y1="54.02" y2="54.02" stroke="#363636" stroke-width="0.5"/>
<text x="573.7" y="56.47" font-size="6.7" text-anchor="end" fill="#363636" stroke="#363636" stroke-width="0.12">30</text>
<line x1="574.2" x2="576.5" y1="43.16" y2="43.16" stroke="#363636" stroke-width="0.5"/>
<text x="573.7" y="45.61" font-size="6.7" text-anchor="end" fill="#363636" stroke="#363636" stroke-width="0.12">40</text>
<line x1="574.2" x2="576.5" y1="32.3" y2="32.3" stroke="#363636" stroke-width="0.5"/>
<text x="573.7" y="34.75" font-size="6.7" text-anchor="end" fill="#363636" stroke="#363636" stroke-width="0.12">50</text>
<line x1="581.9" x2="581.9" y1="86.6" y2="88.4" stroke="#999" stroke-width="0.5"/>
<text transform="translate(583.55,95.95) rotate(-32)" font-size="6.7" text-anchor="end" fill="#363636" stroke="#363636" stroke-width="0.1">1.0<tspan font-weight="bold">×</tspan>10<tspan font-size="4.7" dy="-3.3">1</tspan></text>
<line x1="591.9" x2="591.9" y1="86.6" y2="88.4" stroke="#999" stroke-width="0.5"/>
<text transform="translate(593.55,95.95) rotate(-32)" font-size="6.7" text-anchor="end" fill="#363636" stroke="#363636" stroke-width="0.1">1.0<tspan font-weight="bold">×</tspan>10<tspan font-size="4.7" dy="-3.3">2</tspan></text>
<line x1="601.9" x2="601.9" y1="86.6" y2="88.4" stroke="#999" stroke-width="0.5"/>
<text transform="translate(603.55,95.95) rotate(-32)" font-size="6.7" text-anchor="end" fill="#363636" stroke="#363636" stroke-width="0.1">1.0<tspan font-weight="bold">×</tspan>10<tspan font-size="4.7" dy="-3.3">3</tspan></text>
<line x1="611.9" x2="611.9" y1="86.6" y2="88.4" stroke="#999" stroke-width="0.5"/>
<text transform="translate(613.55,95.95) rotate(-32)" font-size="6.7" text-anchor="end" fill="#363636" stroke="#363636" stroke-width="0.1">1.0<tspan font-weight="bold">×</tspan>10<tspan font-size="4.7" dy="-3.3">4</tspan></text>
<line x1="621.9" x2="621.9" y1="86.6" y2="88.4" stroke="#999" stroke-width="0.5"/>
<text transform="translate(623.55,95.95) rotate(-32)" font-size="6.7" text-anchor="end" fill="#363636" stroke="#363636" stroke-width="0.1">1.0<tspan font-weight="bold">×</tspan>10<tspan font-size="4.7" dy="-3.3">5</tspan></text>
<line x1="631.9" x2="631.9" y1="86.6" y2="88.4" stroke="#999" stroke-width="0.5"/>
<text transform="translate(633.55,95.95) rotate(-32)" font-size="6.7" text-anchor="end" fill="#363636" stroke="#363636" stroke-width="0.1">1.0<tspan font-weight="bold">×</tspan>10<tspan font-size="4.7" dy="-3.3">6</tspan></text>
<line x1="641.9" x2="641.9" y1="86.6" y2="88.4" stroke="#999" stroke-width="0.5"/>
<text transform="translate(643.55,95.95) rotate(-32)" font-size="6.7" text-anchor="end" fill="#363636" stroke="#363636" stroke-width="0.1">1.0<tspan font-weight="bold">×</tspan>10<tspan font-size="4.7" dy="-3.3">7</tspan></text>
<line x1="651.9" x2="651.9" y1="86.6" y2="88.4" stroke="#999" stroke-width="0.5"/>
<text transform="translate(653.55,95.95) rotate(-32)" font-size="6.7" text-anchor="end" fill="#363636" stroke="#363636" stroke-width="0.1">Neg</text>
<text x="618.7" y="117.6" font-size="7.3" font-weight="bold" text-anchor="middle" fill="#111" stroke="#111" stroke-width="0.15">Dilution ratio</text>
<rect x="660.4" y="34.2" width="6" height="4.8" fill="#D6446F"/>
<rect x="660.4" y="41.7" width="6" height="4.6" fill="#0E9743"/>
<text x="669.7" y="38.6" font-size="5.9" fill="#1a1a1a" stroke="#1a1a1a" class="r">SSNB</text>
<text x="669.7" y="45.8" font-size="5.9" fill="#1a1a1a" stroke="#1a1a1a" class="r">MHG</text>
<text x="20.8" y="149.5" font-size="15" font-weight="bold" fill="#000">f</text>
<text x="65.2" y="159.8" font-size="8.2" font-weight="bold" text-anchor="middle" fill="#000" stroke="#000" stroke-width="0.2">CVB3</text>
<text transform="translate(5.95,196.15) rotate(-90)" font-size="7.5" font-weight="bold" text-anchor="middle" fill="#111">MFI</text>
<rect x="23.8" y="170.7" width="82" height="54.3" fill="#EBEBEB"/>
<line x1="23.8" x2="105.8" y1="225" y2="225" stroke="#fff" stroke-width="0.5" stroke-opacity="0.75"/>
<line x1="23.8" x2="105.8" y1="206.9" y2="206.9" stroke="#fff" stroke-width="0.5" stroke-opacity="0.75"/>
<line x1="23.8" x2="105.8" y1="188.8" y2="188.8" stroke="#fff" stroke-width="0.5" stroke-opacity="0.75"/>
<line x1="23.8" x2="105.8" y1="170.7" y2="170.7" stroke="#fff" stroke-width="0.5" stroke-opacity="0.75"/>
<line x1="29.8" x2="29.8" y1="170.7" y2="225" stroke="#fff" stroke-width="0.5" stroke-opacity="0.75"/>
<line x1="39.8" x2="39.8" y1="170.7" y2="225" stroke="#fff" stroke-width="0.5" stroke-opacity="0.75"/>
<line x1="49.8" x2="49.8" y1="170.7" y2="225" stroke="#fff" stroke-width="0.5" stroke-opacity="0.75"/>
<line x1="59.8" x2="59.8" y1="170.7" y2="225" stroke="#fff" stroke-width="0.5" stroke-opacity="0.75"/>
<line x1="69.8" x2="69.8" y1="170.7" y2="225" stroke="#fff" stroke-width="0.5" stroke-opacity="0.75"/>
<line x1="79.8" x2="79.8" y1="170.7" y2="225" stroke="#fff" stroke-width="0.5" stroke-opacity="0.75"/>
<line x1="89.8" x2="89.8" y1="170.7" y2="225" stroke="#fff" stroke-width="0.5" stroke-opacity="0.75"/>
<line x1="99.8" x2="99.8" y1="170.7" y2="225" stroke="#fff" stroke-width="0.5" stroke-opacity="0.75"/>
<rect x="23.8" y="218.3" width="82" height="8" fill="#D6446F" fill-opacity="0.25"/>
<rect x="25.3" y="200.75" width="4.5" height="24.25" fill="#D6446F"/>
<rect x="29.8" y="222.1" width="4.5" height="2.9" fill="#0E9743"/>
<rect x="35.3" y="178.3" width="4.5" height="46.7" fill="#D6446F"/>
<rect x="39.8" y="222.1" width="4.5" height="2.9" fill="#0E9743"/>
<rect x="45.3" y="180.11" width="4.5" height="44.89" fill="#D6446F"/>
<rect x="49.8" y="222.1" width="4.5" height="2.9" fill="#0E9743"/>
<rect x="55.3" y="202.56" width="4.5" height="22.44" fill="#D6446F"/>
<rect x="59.8" y="222.1" width="4.5" height="2.9" fill="#0E9743"/>
<rect x="65.3" y="204.91" width="4.5" height="20.09" fill="#D6446F"/>
<rect x="69.8" y="222.1" width="4.5" height="2.9" fill="#0E9743"/>
<rect x="75.3" y="217.58" width="4.5" height="7.42" fill="#D6446F"/>
<rect x="79.8" y="222.1" width="4.5" height="2.9" fill="#0E9743"/>
<rect x="85.3" y="221.02" width="4.5" height="3.98" fill="#D6446F"/>
<rect x="89.8" y="222.1" width="4.5" height="2.9" fill="#0E9743"/>
<rect x="95.3" y="221.74" width="4.5" height="3.26" fill="#D6446F"/>
<rect x="99.8" y="222.1" width="4.5" height="2.9" fill="#0E9743"/>
<rect x="23.8" y="221.38" width="82" height="4.92" fill="#0E9743" fill-opacity="0.6"/>
<line x1="27.55" x2="27.55" y1="194.23" y2="207.26" stroke="#000" stroke-width="0.45"/>
<line x1="26.45" x2="28.65" y1="194.23" y2="194.23" stroke="#000" stroke-width="0.45"/>
<circle cx="26.95" cy="196.84" r="0.45" fill="#111"/>
<circle cx="28.05" cy="202.7" r="0.45" fill="#111"/>
<circle cx="27.55" cy="205.96" r="0.45" fill="#111"/>
<line x1="32.05" x2="32.05" y1="221.74" y2="222.47" stroke="#000" stroke-width="0.45"/>
<line x1="30.95" x2="33.15" y1="221.74" y2="221.74" stroke="#000" stroke-width="0.45"/>
<circle cx="31.45" cy="221.89" r="0.45" fill="#111"/>
<circle cx="32.55" cy="222.21" r="0.45" fill="#111"/>
<circle cx="32.05" cy="222.39" r="0.45" fill="#111"/>
<line x1="37.55" x2="37.55" y1="174.68" y2="181.92" stroke="#000" stroke-width="0.45"/>
<line x1="36.45" x2="38.65" y1="174.68" y2="174.68" stroke="#000" stroke-width="0.45"/>
<circle cx="36.95" cy="176.13" r="0.45" fill="#111"/>
<circle cx="38.05" cy="179.39" r="0.45" fill="#111"/>
<circle cx="37.55" cy="181.2" r="0.45" fill="#111"/>
<line x1="42.05" x2="42.05" y1="221.74" y2="222.47" stroke="#000" stroke-width="0.45"/>
<line x1="40.95" x2="43.15" y1="221.74" y2="221.74" stroke="#000" stroke-width="0.45"/>
<circle cx="41.45" cy="221.89" r="0.45" fill="#111"/>
<circle cx="42.55" cy="222.21" r="0.45" fill="#111"/>
<circle cx="42.05" cy="222.39" r="0.45" fill="#111"/>
<line x1="47.55" x2="47.55" y1="177.22" y2="183.01" stroke="#000" stroke-width="0.45"/>
<line x1="46.45" x2="48.65" y1="177.22" y2="177.22" stroke="#000" stroke-width="0.45"/>
<circle cx="46.95" cy="178.37" r="0.45" fill="#111"/>
<circle cx="48.05" cy="180.98" r="0.45" fill="#111"/>
<circle cx="47.55" cy="182.43" r="0.45" fill="#111"/>
<line x1="52.05" x2="52.05" y1="221.74" y2="222.47" stroke="#000" stroke-width="0.45"/>
<line x1="50.95" x2="53.15" y1="221.74" y2="221.74" stroke="#000" stroke-width="0.45"/>
<circle cx="51.45" cy="221.89" r="0.45" fill="#111"/>
<circle cx="52.55" cy="222.21" r="0.45" fill="#111"/>
<circle cx="52.05" cy="222.39" r="0.45" fill="#111"/>
<line x1="57.55" x2="57.55" y1="197.85" y2="207.26" stroke="#000" stroke-width="0.45"/>
<line x1="56.45" x2="58.65" y1="197.85" y2="197.85" stroke="#000" stroke-width="0.45"/>
<circle cx="56.95" cy="199.73" r="0.45" fill="#111"/>
<circle cx="58.05" cy="203.97" r="0.45" fill="#111"/>
<circle cx="57.55" cy="206.32" r="0.45" fill="#111"/>
<line x1="62.05" x2="62.05" y1="221.74" y2="222.47" stroke="#000" stroke-width="0.45"/>
<line x1="60.95" x2="63.15" y1="221.74" y2="221.74" stroke="#000" stroke-width="0.45"/>
<circle cx="61.45" cy="221.89" r="0.45" fill="#111"/>
<circle cx="62.55" cy="222.21" r="0.45" fill="#111"/>
<circle cx="62.05" cy="222.39" r="0.45" fill="#111"/>
<line x1="67.55" x2="67.55" y1="197.31" y2="212.51" stroke="#000" stroke-width="0.45"/>
<line x1="66.45" x2="68.65" y1="197.31" y2="197.31" stroke="#000" stroke-width="0.45"/>
<circle cx="66.95" cy="200.35" r="0.45" fill="#111"/>
<circle cx="68.05" cy="207.19" r="0.45" fill="#111"/>
<circle cx="67.55" cy="210.99" r="0.45" fill="#111"/>
<line x1="72.05" x2="72.05" y1="221.74" y2="222.47" stroke="#000" stroke-width="0.45"/>
<line x1="70.95" x2="73.15" y1="221.74" y2="221.74" stroke="#000" stroke-width="0.45"/>
<circle cx="71.45" cy="221.89" r="0.45" fill="#111"/>
<circle cx="72.55" cy="222.21" r="0.45" fill="#111"/>
<circle cx="72.05" cy="222.39" r="0.45" fill="#111"/>
<line x1="77.55" x2="77.55" y1="216.49" y2="218.66" stroke="#000" stroke-width="0.45"/>
<line x1="76.45" x2="78.65" y1="216.49" y2="216.49" stroke="#000" stroke-width="0.45"/>
<circle cx="76.95" cy="216.93" r="0.45" fill="#111"/>
<circle cx="78.05" cy="217.9" r="0.45" fill="#111"/>
<circle cx="77.55" cy="218.45" r="0.45" fill="#111"/>
<line x1="82.05" x2="82.05" y1="221.74" y2="222.47" stroke="#000" stroke-width="0.45"/>
<line x1="80.95" x2="83.15" y1="221.74" y2="221.74" stroke="#000" stroke-width="0.45"/>
<circle cx="81.45" cy="221.89" r="0.45" fill="#111"/>
<circle cx="82.55" cy="222.21" r="0.45" fill="#111"/>
<circle cx="82.05" cy="222.39" r="0.45" fill="#111"/>
<line x1="87.55" x2="87.55" y1="220.66" y2="221.38" stroke="#000" stroke-width="0.45"/>
<line x1="86.45" x2="88.65" y1="220.66" y2="220.66" stroke="#000" stroke-width="0.45"/>
<circle cx="86.95" cy="220.8" r="0.45" fill="#111"/>
<circle cx="88.05" cy="221.13" r="0.45" fill="#111"/>
<circle cx="87.55" cy="221.31" r="0.45" fill="#111"/>
<line x1="92.05" x2="92.05" y1="221.74" y2="222.47" stroke="#000" stroke-width="0.45"/>
<line x1="90.95" x2="93.15" y1="221.74" y2="221.74" stroke="#000" stroke-width="0.45"/>
<circle cx="91.45" cy="221.89" r="0.45" fill="#111"/>
<circle cx="92.55" cy="222.21" r="0.45" fill="#111"/>
<circle cx="92.05" cy="222.39" r="0.45" fill="#111"/>
<line x1="97.55" x2="97.55" y1="221.38" y2="222.1" stroke="#000" stroke-width="0.45"/>
<line x1="96.45" x2="98.65" y1="221.38" y2="221.38" stroke="#000" stroke-width="0.45"/>
<circle cx="96.95" cy="221.52" r="0.45" fill="#111"/>
<circle cx="98.05" cy="221.85" r="0.45" fill="#111"/>
<circle cx="97.55" cy="222.03" r="0.45" fill="#111"/>
<line x1="102.05" x2="102.05" y1="221.74" y2="222.47" stroke="#000" stroke-width="0.45"/>
<line x1="100.95" x2="103.15" y1="221.74" y2="221.74" stroke="#000" stroke-width="0.45"/>
<circle cx="101.45" cy="221.89" r="0.45" fill="#111"/>
<circle cx="102.55" cy="222.21" r="0.45" fill="#111"/>
<circle cx="102.05" cy="222.39" r="0.45" fill="#111"/>
<path d="M23.8,170.7H105.8V225" fill="none" stroke="#6A6A6A" stroke-width="0.75"/>
<line x1="23.8" x2="23.8" y1="170.7" y2="225" stroke="#6A6A6A" stroke-width="0.7"/>
<line x1="21.5" x2="23.8" y1="225" y2="225" stroke="#363636" stroke-width="0.5"/>
<text x="21" y="227.45" font-size="6.7" text-anchor="end" fill="#363636" stroke="#363636" stroke-width="0.12">0</text>
<line x1="21.5" x2="23.8" y1="206.9" y2="206.9" stroke="#363636" stroke-width="0.5"/>
<text x="21" y="209.35" font-size="6.7" text-anchor="end" fill="#363636" stroke="#363636" stroke-width="0.12">50</text>
<line x1="21.5" x2="23.8" y1="188.8" y2="188.8" stroke="#363636" stroke-width="0.5"/>
<text x="21" y="191.25" font-size="6.7" text-anchor="end" fill="#363636" stroke="#363636" stroke-width="0.12">100</text>
<line x1="21.5" x2="23.8" y1="170.7" y2="170.7" stroke="#363636" stroke-width="0.5"/>
<text x="21" y="173.15" font-size="6.7" text-anchor="end" fill="#363636" stroke="#363636" stroke-width="0.12">150</text>
<line x1="29.8" x2="29.8" y1="225" y2="226.8" stroke="#999" stroke-width="0.5"/>
<text transform="translate(31.45,234.35) rotate(-32)" font-size="6.7" text-anchor="end" fill="#363636" stroke="#363636" stroke-width="0.1">1.0<tspan font-weight="bold">×</tspan>10<tspan font-size="4.7" dy="-3.3">1</tspan></text>
<line x1="39.8" x2="39.8" y1="225" y2="226.8" stroke="#999" stroke-width="0.5"/>
<text transform="translate(41.45,234.35) rotate(-32)" font-size="6.7" text-anchor="end" fill="#363636" stroke="#363636" stroke-width="0.1">1.0<tspan font-weight="bold">×</tspan>10<tspan font-size="4.7" dy="-3.3">2</tspan></text>
<line x1="49.8" x2="49.8" y1="225" y2="226.8" stroke="#999" stroke-width="0.5"/>
<text transform="translate(51.45,234.35) rotate(-32)" font-size="6.7" text-anchor="end" fill="#363636" stroke="#363636" stroke-width="0.1">1.0<tspan font-weight="bold">×</tspan>10<tspan font-size="4.7" dy="-3.3">3</tspan></text>
<line x1="59.8" x2="59.8" y1="225" y2="226.8" stroke="#999" stroke-width="0.5"/>
<text transform="translate(61.45,234.35) rotate(-32)" font-size="6.7" text-anchor="end" fill="#363636" stroke="#363636" stroke-width="0.1">1.0<tspan font-weight="bold">×</tspan>10<tspan font-size="4.7" dy="-3.3">4</tspan></text>
<line x1="69.8" x2="69.8" y1="225" y2="226.8" stroke="#999" stroke-width="0.5"/>
<text transform="translate(71.45,234.35) rotate(-32)" font-size="6.7" text-anchor="end" fill="#363636" stroke="#363636" stroke-width="0.1">1.0<tspan font-weight="bold">×</tspan>10<tspan font-size="4.7" dy="-3.3">5</tspan></text>
<line x1="79.8" x2="79.8" y1="225" y2="226.8" stroke="#999" stroke-width="0.5"/>
<text transform="translate(81.45,234.35) rotate(-32)" font-size="6.7" text-anchor="end" fill="#363636" stroke="#363636" stroke-width="0.1">1.0<tspan font-weight="bold">×</tspan>10<tspan font-size="4.7" dy="-3.3">6</tspan></text>
<line x1="89.8" x2="89.8" y1="225" y2="226.8" stroke="#999" stroke-width="0.5"/>
<text transform="translate(91.45,234.35) rotate(-32)" font-size="6.7" text-anchor="end" fill="#363636" stroke="#363636" stroke-width="0.1">1.0<tspan font-weight="bold">×</tspan>10<tspan font-size="4.7" dy="-3.3">7</tspan></text>
<line x1="99.8" x2="99.8" y1="225" y2="226.8" stroke="#999" stroke-width="0.5"/>
<text transform="translate(101.45,234.35) rotate(-32)" font-size="6.7" text-anchor="end" fill="#363636" stroke="#363636" stroke-width="0.1">Neg</text>
<text x="66.5" y="256.2" font-size="7.3" font-weight="bold" text-anchor="middle" fill="#111" stroke="#111" stroke-width="0.15">Dilution ratio</text>
<rect x="107.7" y="172.6" width="6" height="4.8" fill="#D6446F"/>
<rect x="107.7" y="180.1" width="6" height="4.6" fill="#0E9743"/>
<text x="117" y="177" font-size="5.9" fill="#1a1a1a" stroke="#1a1a1a" class="r">SSNB</text>
<text x="117" y="184.2" font-size="5.9" fill="#1a1a1a" stroke="#1a1a1a" class="r">MHG</text>
<text x="157.2" y="149.5" font-size="15" font-weight="bold" fill="#000">g</text>
<text x="203.6" y="159.8" font-size="8.2" font-weight="bold" text-anchor="middle" fill="#000" stroke="#000" stroke-width="0.2">CVB5</text>
<text transform="translate(143.95,196.15) rotate(-90)" font-size="7.5" font-weight="bold" text-anchor="middle" fill="#111">MFI</text>
<rect x="162.3" y="170.7" width="82" height="54.3" fill="#EBEBEB"/>
<line x1="162.3" x2="244.3" y1="225" y2="225" stroke="#fff" stroke-width="0.5" stroke-opacity="0.75"/>
<line x1="162.3" x2="244.3" y1="214.14" y2="214.14" stroke="#fff" stroke-width="0.5" stroke-opacity="0.75"/>
<line x1="162.3" x2="244.3" y1="203.28" y2="203.28" stroke="#fff" stroke-width="0.5" stroke-opacity="0.75"/>
<line x1="162.3" x2="244.3" y1="192.42" y2="192.42" stroke="#fff" stroke-width="0.5" stroke-opacity="0.75"/>
<line x1="162.3" x2="244.3" y1="181.56" y2="181.56" stroke="#fff" stroke-width="0.5" stroke-opacity="0.75"/>
<line x1="162.3" x2="244.3" y1="170.7" y2="170.7" stroke="#fff" stroke-width="0.5" stroke-opacity="0.75"/>
<line x1="167.9" x2="167.9" y1="170.7" y2="225" stroke="#fff" stroke-width="0.5" stroke-opacity="0.75"/>
<line x1="177.9" x2="177.9" y1="170.7" y2="225" stroke="#fff" stroke-width="0.5" stroke-opacity="0.75"/>
<line x1="187.9" x2="187.9" y1="170.7" y2="225" stroke="#fff" stroke-width="0.5" stroke-opacity="0.75"/>
<line x1="197.9" x2="197.9" y1="170.7" y2="225" stroke="#fff" stroke-width="0.5" stroke-opacity="0.75"/>
<line x1="207.9" x2="207.9" y1="170.7" y2="225" stroke="#fff" stroke-width="0.5" stroke-opacity="0.75"/>
<line x1="217.9" x2="217.9" y1="170.7" y2="225" stroke="#fff" stroke-width="0.5" stroke-opacity="0.75"/>
<line x1="227.9" x2="227.9" y1="170.7" y2="225" stroke="#fff" stroke-width="0.5" stroke-opacity="0.75"/>
<line x1="237.9" x2="237.9" y1="170.7" y2="225" stroke="#fff" stroke-width="0.5" stroke-opacity="0.75"/>
<rect x="162.3" y="224.78" width="82" height="1.52" fill="#D6446F" fill-opacity="0.25"/>
<rect x="163.4" y="184.38" width="4.5" height="40.62" fill="#D6446F"/>
<rect x="167.9" y="224.57" width="4.5" height="0.43" fill="#0E9743"/>
<rect x="173.4" y="201.33" width="4.5" height="23.67" fill="#D6446F"/>
<rect x="177.9" y="224.57" width="4.5" height="0.43" fill="#0E9743"/>
<rect x="183.4" y="217.18" width="4.5" height="7.82" fill="#D6446F"/>
<rect x="187.9" y="224.57" width="4.5" height="0.43" fill="#0E9743"/>
<rect x="193.4" y="221.31" width="4.5" height="3.69" fill="#D6446F"/>
<rect x="197.9" y="224.57" width="4.5" height="0.43" fill="#0E9743"/>
<rect x="203.4" y="223.91" width="4.5" height="1.09" fill="#D6446F"/>
<rect x="207.9" y="224.57" width="4.5" height="0.43" fill="#0E9743"/>
<rect x="213.4" y="224.35" width="4.5" height="0.65" fill="#D6446F"/>
<rect x="217.9" y="224.57" width="4.5" height="0.43" fill="#0E9743"/>
<rect x="223.4" y="224.35" width="4.5" height="0.65" fill="#D6446F"/>
<rect x="227.9" y="224.57" width="4.5" height="0.43" fill="#0E9743"/>
<rect x="233.4" y="224.35" width="4.5" height="0.65" fill="#D6446F"/>
<rect x="237.9" y="224.57" width="4.5" height="0.43" fill="#0E9743"/>
<rect x="162.3" y="224.57" width="82" height="1.73" fill="#0E9743" fill-opacity="0.6"/>
<line x1="165.65" x2="165.65" y1="173.52" y2="195.24" stroke="#000" stroke-width="0.45"/>
<line x1="164.55" x2="166.75" y1="173.52" y2="173.52" stroke="#000" stroke-width="0.45"/>
<circle cx="165.05" cy="177.87" r="0.45" fill="#111"/>
<circle cx="166.15" cy="187.64" r="0.45" fill="#111"/>
<circle cx="165.65" cy="193.07" r="0.45" fill="#111"/>
<line x1="170.15" x2="170.15" y1="224.35" y2="224.78" stroke="#000" stroke-width="0.45"/>
<line x1="169.05" x2="171.25" y1="224.35" y2="224.35" stroke="#000" stroke-width="0.45"/>
<circle cx="169.55" cy="224.44" r="0.45" fill="#111"/>
<circle cx="170.65" cy="224.63" r="0.45" fill="#111"/>
<circle cx="170.15" cy="224.74" r="0.45" fill="#111"/>
<line x1="175.65" x2="175.65" y1="199.37" y2="203.28" stroke="#000" stroke-width="0.45"/>
<line x1="174.55" x2="176.75" y1="199.37" y2="199.37" stroke="#000" stroke-width="0.45"/>
<circle cx="175.05" cy="200.15" r="0.45" fill="#111"/>
<circle cx="176.15" cy="201.91" r="0.45" fill="#111"/>
<circle cx="175.65" cy="202.89" r="0.45" fill="#111"/>
<line x1="180.15" x2="180.15" y1="224.35" y2="224.78" stroke="#000" stroke-width="0.45"/>
<line x1="179.05" x2="181.25" y1="224.35" y2="224.35" stroke="#000" stroke-width="0.45"/>
<circle cx="179.55" cy="224.44" r="0.45" fill="#111"/>
<circle cx="180.65" cy="224.63" r="0.45" fill="#111"/>
<circle cx="180.15" cy="224.74" r="0.45" fill="#111"/>
<line x1="185.65" x2="185.65" y1="215.23" y2="219.14" stroke="#000" stroke-width="0.45"/>
<line x1="184.55" x2="186.75" y1="215.23" y2="215.23" stroke="#000" stroke-width="0.45"/>
<circle cx="185.05" cy="216.01" r="0.45" fill="#111"/>
<circle cx="186.15" cy="217.77" r="0.45" fill="#111"/>
<circle cx="185.65" cy="218.74" r="0.45" fill="#111"/>
<line x1="190.15" x2="190.15" y1="224.35" y2="224.78" stroke="#000" stroke-width="0.45"/>
<line x1="189.05" x2="191.25" y1="224.35" y2="224.35" stroke="#000" stroke-width="0.45"/>
<circle cx="189.55" cy="224.44" r="0.45" fill="#111"/>
<circle cx="190.65" cy="224.63" r="0.45" fill="#111"/>
<circle cx="190.15" cy="224.74" r="0.45" fill="#111"/>
<line x1="195.65" x2="195.65" y1="220.22" y2="222.39" stroke="#000" stroke-width="0.45"/>
<line x1="194.55" x2="196.75" y1="220.22" y2="220.22" stroke="#000" stroke-width="0.45"/>
<circle cx="195.05" cy="220.66" r="0.45" fill="#111"/>
<circle cx="196.15" cy="221.63" r="0.45" fill="#111"/>
<circle cx="195.65" cy="222.18" r="0.45" fill="#111"/>
<line x1="200.15" x2="200.15" y1="224.35" y2="224.78" stroke="#000" stroke-width="0.45"/>
<line x1="199.05" x2="201.25" y1="224.35" y2="224.35" stroke="#000" stroke-width="0.45"/>
<circle cx="199.55" cy="224.44" r="0.45" fill="#111"/>
<circle cx="200.65" cy="224.63" r="0.45" fill="#111"/>
<circle cx="200.15" cy="224.74" r="0.45" fill="#111"/>
<line x1="205.65" x2="205.65" y1="223.48" y2="224.35" stroke="#000" stroke-width="0.45"/>
<line x1="204.55" x2="206.75" y1="223.48" y2="223.48" stroke="#000" stroke-width="0.45"/>
<circle cx="205.05" cy="223.65" r="0.45" fill="#111"/>
<circle cx="206.15" cy="224.04" r="0.45" fill="#111"/>
<circle cx="205.65" cy="224.26" r="0.45" fill="#111"/>
<line x1="210.15" x2="210.15" y1="224.35" y2="224.78" stroke="#000" stroke-width="0.45"/>
<line x1="209.05" x2="211.25" y1="224.35" y2="224.35" stroke="#000" stroke-width="0.45"/>
<circle cx="209.55" cy="224.44" r="0.45" fill="#111"/>
<circle cx="210.65" cy="224.63" r="0.45" fill="#111"/>
<circle cx="210.15" cy="224.74" r="0.45" fill="#111"/>
<line x1="215.65" x2="215.65" y1="224.13" y2="224.57" stroke="#000" stroke-width="0.45"/>
<line x1="214.55" x2="216.75" y1="224.13" y2="224.13" stroke="#000" stroke-width="0.45"/>
<circle cx="215.05" cy="224.22" r="0.45" fill="#111"/>
<circle cx="216.15" cy="224.41" r="0.45" fill="#111"/>
<circle cx="215.65" cy="224.52" r="0.45" fill="#111"/>
<line x1="220.15" x2="220.15" y1="224.35" y2="224.78" stroke="#000" stroke-width="0.45"/>
<line x1="219.05" x2="221.25" y1="224.35" y2="224.35" stroke="#000" stroke-width="0.45"/>
<circle cx="219.55" cy="224.44" r="0.45" fill="#111"/>
<circle cx="220.65" cy="224.63" r="0.45" fill="#111"/>
<circle cx="220.15" cy="224.74" r="0.45" fill="#111"/>
<line x1="225.65" x2="225.65" y1="224.13" y2="224.57" stroke="#000" stroke-width="0.45"/>
<line x1="224.55" x2="226.75" y1="224.13" y2="224.13" stroke="#000" stroke-width="0.45"/>
<circle cx="225.05" cy="224.22" r="0.45" fill="#111"/>
<circle cx="226.15" cy="224.41" r="0.45" fill="#111"/>
<circle cx="225.65" cy="224.52" r="0.45" fill="#111"/>
<line x1="230.15" x2="230.15" y1="224.35" y2="224.78" stroke="#000" stroke-width="0.45"/>
<line x1="229.05" x2="231.25" y1="224.35" y2="224.35" stroke="#000" stroke-width="0.45"/>
<circle cx="229.55" cy="224.44" r="0.45" fill="#111"/>
<circle cx="230.65" cy="224.63" r="0.45" fill="#111"/>
<circle cx="230.15" cy="224.74" r="0.45" fill="#111"/>
<line x1="235.65" x2="235.65" y1="224.13" y2="224.57" stroke="#000" stroke-width="0.45"/>
<line x1="234.55" x2="236.75" y1="224.13" y2="224.13" stroke="#000" stroke-width="0.45"/>
<circle cx="235.05" cy="224.22" r="0.45" fill="#111"/>
<circle cx="236.15" cy="224.41" r="0.45" fill="#111"/>
<circle cx="235.65" cy="224.52" r="0.45" fill="#111"/>
<line x1="240.15" x2="240.15" y1="224.35" y2="224.78" stroke="#000" stroke-width="0.45"/>
<line x1="239.05" x2="241.25" y1="224.35" y2="224.35" stroke="#000" stroke-width="0.45"/>
<circle cx="239.55" cy="224.44" r="0.45" fill="#111"/>
<circle cx="240.65" cy="224.63" r="0.45" fill="#111"/>
<circle cx="240.15" cy="224.74" r="0.45" fill="#111"/>
<path d="M162.3,170.7H244.3V225" fill="none" stroke="#6A6A6A" stroke-width="0.75"/>
<line x1="162.3" x2="162.3" y1="170.7" y2="225" stroke="#6A6A6A" stroke-width="0.7"/>
<line x1="160" x2="162.3" y1="225" y2="225" stroke="#363636" stroke-width="0.5"/>
<text x="159.5" y="227.45" font-size="6.7" text-anchor="end" fill="#363636" stroke="#363636" stroke-width="0.12">0</text>
<line x1="160" x2="162.3" y1="214.14" y2="214.14" stroke="#363636" stroke-width="0.5"/>
<text x="159.5" y="216.59" font-size="6.7" text-anchor="end" fill="#363636" stroke="#363636" stroke-width="0.12">50</text>
<line x1="160" x2="162.3" y1="203.28" y2="203.28" stroke="#363636" stroke-width="0.5"/>
<text x="159.5" y="205.73" font-size="6.7" text-anchor="end" fill="#363636" stroke="#363636" stroke-width="0.12">100</text>
<line x1="160" x2="162.3" y1="192.42" y2="192.42" stroke="#363636" stroke-width="0.5"/>
<text x="159.5" y="194.87" font-size="6.7" text-anchor="end" fill="#363636" stroke="#363636" stroke-width="0.12">150</text>
<line x1="160" x2="162.3" y1="181.56" y2="181.56" stroke="#363636" stroke-width="0.5"/>
<text x="159.5" y="184.01" font-size="6.7" text-anchor="end" fill="#363636" stroke="#363636" stroke-width="0.12">200</text>
<line x1="160" x2="162.3" y1="170.7" y2="170.7" stroke="#363636" stroke-width="0.5"/>
<text x="159.5" y="173.15" font-size="6.7" text-anchor="end" fill="#363636" stroke="#363636" stroke-width="0.12">250</text>
<line x1="167.9" x2="167.9" y1="225" y2="226.8" stroke="#999" stroke-width="0.5"/>
<text transform="translate(169.55,234.35) rotate(-32)" font-size="6.7" text-anchor="end" fill="#363636" stroke="#363636" stroke-width="0.1">1.0<tspan font-weight="bold">×</tspan>10<tspan font-size="4.7" dy="-3.3">1</tspan></text>
<line x1="177.9" x2="177.9" y1="225" y2="226.8" stroke="#999" stroke-width="0.5"/>
<text transform="translate(179.55,234.35) rotate(-32)" font-size="6.7" text-anchor="end" fill="#363636" stroke="#363636" stroke-width="0.1">1.0<tspan font-weight="bold">×</tspan>10<tspan font-size="4.7" dy="-3.3">2</tspan></text>
<line x1="187.9" x2="187.9" y1="225" y2="226.8" stroke="#999" stroke-width="0.5"/>
<text transform="translate(189.55,234.35) rotate(-32)" font-size="6.7" text-anchor="end" fill="#363636" stroke="#363636" stroke-width="0.1">1.0<tspan font-weight="bold">×</tspan>10<tspan font-size="4.7" dy="-3.3">3</tspan></text>
<line x1="197.9" x2="197.9" y1="225" y2="226.8" stroke="#999" stroke-width="0.5"/>
<text transform="translate(199.55,234.35) rotate(-32)" font-size="6.7" text-anchor="end" fill="#363636" stroke="#363636" stroke-width="0.1">1.0<tspan font-weight="bold">×</tspan>10<tspan font-size="4.7" dy="-3.3">4</tspan></text>
<line x1="207.9" x2="207.9" y1="225" y2="226.8" stroke="#999" stroke-width="0.5"/>
<text transform="translate(209.55,234.35) rotate(-32)" font-size="6.7" text-anchor="end" fill="#363636" stroke="#363636" stroke-width="0.1">1.0<tspan font-weight="bold">×</tspan>10<tspan font-size="4.7" dy="-3.3">5</tspan></text>
<line x1="217.9" x2="217.9" y1="225" y2="226.8" stroke="#999" stroke-width="0.5"/>
<text transform="translate(219.55,234.35) rotate(-32)" font-size="6.7" text-anchor="end" fill="#363636" stroke="#363636" stroke-width="0.1">1.0<tspan font-weight="bold">×</tspan>10<tspan font-size="4.7" dy="-3.3">6</tspan></text>
<line x1="227.9" x2="227.9" y1="225" y2="226.8" stroke="#999" stroke-width="0.5"/>
<text transform="translate(229.55,234.35) rotate(-32)" font-size="6.7" text-anchor="end" fill="#363636" stroke="#363636" stroke-width="0.1">1.0<tspan font-weight="bold">×</tspan>10<tspan font-size="4.7" dy="-3.3">7</tspan></text>
<line x1="237.9" x2="237.9" y1="225" y2="226.8" stroke="#999" stroke-width="0.5"/>
<text transform="translate(239.55,234.35) rotate(-32)" font-size="6.7" text-anchor="end" fill="#363636" stroke="#363636" stroke-width="0.1">Neg</text>
<text x="205" y="256.2" font-size="7.3" font-weight="bold" text-anchor="middle" fill="#111" stroke="#111" stroke-width="0.15">Dilution ratio</text>
<rect x="246.2" y="172.6" width="6" height="4.8" fill="#D6446F"/>
<rect x="246.2" y="180.1" width="6" height="4.6" fill="#0E9743"/>
<text x="255.5" y="177" font-size="5.9" fill="#1a1a1a" stroke="#1a1a1a" class="r">SSNB</text>
<text x="255.5" y="184.2" font-size="5.9" fill="#1a1a1a" stroke="#1a1a1a" class="r">MHG</text>
<text x="295.7" y="149.5" font-size="15" font-weight="bold" fill="#000">h</text>
<text x="342.4" y="159.8" font-size="8.2" font-weight="bold" text-anchor="middle" fill="#000" stroke="#000" stroke-width="0.2">E25</text>
<text transform="translate(282.3,196.15) rotate(-90)" font-size="7.5" font-weight="bold" text-anchor="middle" fill="#111">MFI</text>
<rect x="300.7" y="170.7" width="82" height="54.3" fill="#EBEBEB"/>
<line x1="300.7" x2="382.7" y1="225" y2="225" stroke="#fff" stroke-width="0.5" stroke-opacity="0.75"/>
<line x1="300.7" x2="382.7" y1="214.14" y2="214.14" stroke="#fff" stroke-width="0.5" stroke-opacity="0.75"/>
<line x1="300.7" x2="382.7" y1="203.28" y2="203.28" stroke="#fff" stroke-width="0.5" stroke-opacity="0.75"/>
<line x1="300.7" x2="382.7" y1="192.42" y2="192.42" stroke="#fff" stroke-width="0.5" stroke-opacity="0.75"/>
<line x1="300.7" x2="382.7" y1="181.56" y2="181.56" stroke="#fff" stroke-width="0.5" stroke-opacity="0.75"/>
<line x1="300.7" x2="382.7" y1="170.7" y2="170.7" stroke="#fff" stroke-width="0.5" stroke-opacity="0.75"/>
<line x1="306.4" x2="306.4" y1="170.7" y2="225" stroke="#fff" stroke-width="0.5" stroke-opacity="0.75"/>
<line x1="316.4" x2="316.4" y1="170.7" y2="225" stroke="#fff" stroke-width="0.5" stroke-opacity="0.75"/>
<line x1="326.4" x2="326.4" y1="170.7" y2="225" stroke="#fff" stroke-width="0.5" stroke-opacity="0.75"/>
<line x1="336.4" x2="336.4" y1="170.7" y2="225" stroke="#fff" stroke-width="0.5" stroke-opacity="0.75"/>
<line x1="346.4" x2="346.4" y1="170.7" y2="225" stroke="#fff" stroke-width="0.5" stroke-opacity="0.75"/>
<line x1="356.4" x2="356.4" y1="170.7" y2="225" stroke="#fff" stroke-width="0.5" stroke-opacity="0.75"/>
<line x1="366.4" x2="366.4" y1="170.7" y2="225" stroke="#fff" stroke-width="0.5" stroke-opacity="0.75"/>
<line x1="376.4" x2="376.4" y1="170.7" y2="225" stroke="#fff" stroke-width="0.5" stroke-opacity="0.75"/>
<rect x="300.7" y="224.57" width="82" height="1.73" fill="#D6446F" fill-opacity="0.25"/>
<rect x="301.9" y="197.63" width="4.5" height="27.37" fill="#D6446F"/>
<rect x="306.4" y="223.91" width="4.5" height="1.09" fill="#0E9743"/>
<rect x="311.9" y="190.47" width="4.5" height="34.53" fill="#D6446F"/>
<rect x="316.4" y="223.91" width="4.5" height="1.09" fill="#0E9743"/>
<rect x="321.9" y="185.04" width="4.5" height="39.96" fill="#D6446F"/>
<rect x="326.4" y="223.91" width="4.5" height="1.09" fill="#0E9743"/>
<rect x="331.9" y="193.29" width="4.5" height="31.71" fill="#D6446F"/>
<rect x="336.4" y="223.91" width="4.5" height="1.09" fill="#0E9743"/>
<rect x="341.9" y="215.23" width="4.5" height="9.77" fill="#D6446F"/>
<rect x="346.4" y="223.91" width="4.5" height="1.09" fill="#0E9743"/>
<rect x="351.9" y="222.72" width="4.5" height="2.28" fill="#D6446F"/>
<rect x="356.4" y="223.91" width="4.5" height="1.09" fill="#0E9743"/>
<rect x="361.9" y="224.35" width="4.5" height="0.65" fill="#D6446F"/>
<rect x="366.4" y="223.91" width="4.5" height="1.09" fill="#0E9743"/>
<rect x="371.9" y="224.35" width="4.5" height="0.65" fill="#D6446F"/>
<rect x="376.4" y="223.91" width="4.5" height="1.09" fill="#0E9743"/>
<rect x="300.7" y="224.35" width="82" height="1.95" fill="#0E9743" fill-opacity="0.6"/>
<line x1="304.15" x2="304.15" y1="195.03" y2="200.24" stroke="#000" stroke-width="0.45"/>
<line x1="303.05" x2="305.25" y1="195.03" y2="195.03" stroke="#000" stroke-width="0.45"/>
<circle cx="303.55" cy="196.07" r="0.45" fill="#111"/>
<circle cx="304.65" cy="198.41" r="0.45" fill="#111"/>
<circle cx="304.15" cy="199.72" r="0.45" fill="#111"/>
<line x1="308.65" x2="308.65" y1="223.7" y2="224.13" stroke="#000" stroke-width="0.45"/>
<line x1="307.55" x2="309.75" y1="223.7" y2="223.7" stroke="#000" stroke-width="0.45"/>
<circle cx="308.05" cy="223.78" r="0.45" fill="#111"/>
<circle cx="309.15" cy="223.98" r="0.45" fill="#111"/>
<circle cx="308.65" cy="224.09" r="0.45" fill="#111"/>
<line x1="314.15" x2="314.15" y1="186.56" y2="194.37" stroke="#000" stroke-width="0.45"/>
<line x1="313.05" x2="315.25" y1="186.56" y2="186.56" stroke="#000" stroke-width="0.45"/>
<circle cx="313.55" cy="188.12" r="0.45" fill="#111"/>
<circle cx="314.65" cy="191.64" r="0.45" fill="#111"/>
<circle cx="314.15" cy="193.59" r="0.45" fill="#111"/>
<line x1="318.65" x2="318.65" y1="223.7" y2="224.13" stroke="#000" stroke-width="0.45"/>
<line x1="317.55" x2="319.75" y1="223.7" y2="223.7" stroke="#000" stroke-width="0.45"/>
<circle cx="318.05" cy="223.78" r="0.45" fill="#111"/>
<circle cx="319.15" cy="223.98" r="0.45" fill="#111"/>
<circle cx="318.65" cy="224.09" r="0.45" fill="#111"/>
<line x1="324.15" x2="324.15" y1="180.04" y2="190.03" stroke="#000" stroke-width="0.45"/>
<line x1="323.05" x2="325.25" y1="180.04" y2="180.04" stroke="#000" stroke-width="0.45"/>
<circle cx="323.55" cy="182.04" r="0.45" fill="#111"/>
<circle cx="324.65" cy="186.53" r="0.45" fill="#111"/>
<circle cx="324.15" cy="189.03" r="0.45" fill="#111"/>
<line x1="328.65" x2="328.65" y1="223.7" y2="224.13" stroke="#000" stroke-width="0.45"/>
<line x1="327.55" x2="329.75" y1="223.7" y2="223.7" stroke="#000" stroke-width="0.45"/>
<circle cx="328.05" cy="223.78" r="0.45" fill="#111"/>
<circle cx="329.15" cy="223.98" r="0.45" fill="#111"/>
<circle cx="328.65" cy="224.09" r="0.45" fill="#111"/>
<line x1="334.15" x2="334.15" y1="193.07" y2="193.51" stroke="#000" stroke-width="0.45"/>
<line x1="333.05" x2="335.25" y1="193.07" y2="193.07" stroke="#000" stroke-width="0.45"/>
<circle cx="333.55" cy="193.16" r="0.45" fill="#111"/>
<circle cx="334.65" cy="193.35" r="0.45" fill="#111"/>
<circle cx="334.15" cy="193.46" r="0.45" fill="#111"/>
<line x1="338.65" x2="338.65" y1="223.7" y2="224.13" stroke="#000" stroke-width="0.45"/>
<line x1="337.55" x2="339.75" y1="223.7" y2="223.7" stroke="#000" stroke-width="0.45"/>
<circle cx="338.05" cy="223.78" r="0.45" fill="#111"/>
<circle cx="339.15" cy="223.98" r="0.45" fill="#111"/>
<circle cx="338.65" cy="224.09" r="0.45" fill="#111"/>
<line x1="344.15" x2="344.15" y1="215.01" y2="215.44" stroke="#000" stroke-width="0.45"/>
<line x1="343.05" x2="345.25" y1="215.01" y2="215.01" stroke="#000" stroke-width="0.45"/>
<circle cx="343.55" cy="215.1" r="0.45" fill="#111"/>
<circle cx="344.65" cy="215.29" r="0.45" fill="#111"/>
<circle cx="344.15" cy="215.4" r="0.45" fill="#111"/>
<line x1="348.65" x2="348.65" y1="223.7" y2="224.13" stroke="#000" stroke-width="0.45"/>
<line x1="347.55" x2="349.75" y1="223.7" y2="223.7" stroke="#000" stroke-width="0.45"/>
<circle cx="348.05" cy="223.78" r="0.45" fill="#111"/>
<circle cx="349.15" cy="223.98" r="0.45" fill="#111"/>
<circle cx="348.65" cy="224.09" r="0.45" fill="#111"/>
<line x1="354.15" x2="354.15" y1="222.28" y2="223.15" stroke="#000" stroke-width="0.45"/>
<line x1="353.05" x2="355.25" y1="222.28" y2="222.28" stroke="#000" stroke-width="0.45"/>
<circle cx="353.55" cy="222.46" r="0.45" fill="#111"/>
<circle cx="354.65" cy="222.85" r="0.45" fill="#111"/>
<circle cx="354.15" cy="223.07" r="0.45" fill="#111"/>
<line x1="358.65" x2="358.65" y1="223.7" y2="224.13" stroke="#000" stroke-width="0.45"/>
<line x1="357.55" x2="359.75" y1="223.7" y2="223.7" stroke="#000" stroke-width="0.45"/>
<circle cx="358.05" cy="223.78" r="0.45" fill="#111"/>
<circle cx="359.15" cy="223.98" r="0.45" fill="#111"/>
<circle cx="358.65" cy="224.09" r="0.45" fill="#111"/>
<line x1="364.15" x2="364.15" y1="224.13" y2="224.57" stroke="#000" stroke-width="0.45"/>
<line x1="363.05" x2="365.25" y1="224.13" y2="224.13" stroke="#000" stroke-width="0.45"/>
<circle cx="363.55" cy="224.22" r="0.45" fill="#111"/>
<circle cx="364.65" cy="224.41" r="0.45" fill="#111"/>
<circle cx="364.15" cy="224.52" r="0.45" fill="#111"/>
<line x1="368.65" x2="368.65" y1="223.7" y2="224.13" stroke="#000" stroke-width="0.45"/>
<line x1="367.55" x2="369.75" y1="223.7" y2="223.7" stroke="#000" stroke-width="0.45"/>
<circle cx="368.05" cy="223.78" r="0.45" fill="#111"/>
<circle cx="369.15" cy="223.98" r="0.45" fill="#111"/>
<circle cx="368.65" cy="224.09" r="0.45" fill="#111"/>
<line x1="374.15" x2="374.15" y1="224.13" y2="224.57" stroke="#000" stroke-width="0.45"/>
<line x1="373.05" x2="375.25" y1="224.13" y2="224.13" stroke="#000" stroke-width="0.45"/>
<circle cx="373.55" cy="224.22" r="0.45" fill="#111"/>
<circle cx="374.65" cy="224.41" r="0.45" fill="#111"/>
<circle cx="374.15" cy="224.52" r="0.45" fill="#111"/>
<line x1="378.65" x2="378.65" y1="223.7" y2="224.13" stroke="#000" stroke-width="0.45"/>
<line x1="377.55" x2="379.75" y1="223.7" y2="223.7" stroke="#000" stroke-width="0.45"/>
<circle cx="378.05" cy="223.78" r="0.45" fill="#111"/>
<circle cx="379.15" cy="223.98" r="0.45" fill="#111"/>
<circle cx="378.65" cy="224.09" r="0.45" fill="#111"/>
<path d="M300.7,170.7H382.7V225" fill="none" stroke="#6A6A6A" stroke-width="0.75"/>
<line x1="300.7" x2="300.7" y1="170.7" y2="225" stroke="#6A6A6A" stroke-width="0.7"/>
<line x1="298.4" x2="300.7" y1="225" y2="225" stroke="#363636" stroke-width="0.5"/>
<text x="297.9" y="227.45" font-size="6.7" text-anchor="end" fill="#363636" stroke="#363636" stroke-width="0.12">0</text>
<line x1="298.4" x2="300.7" y1="214.14" y2="214.14" stroke="#363636" stroke-width="0.5"/>
<text x="297.9" y="216.59" font-size="6.7" text-anchor="end" fill="#363636" stroke="#363636" stroke-width="0.12">50</text>
<line x1="298.4" x2="300.7" y1="203.28" y2="203.28" stroke="#363636" stroke-width="0.5"/>
<text x="297.9" y="205.73" font-size="6.7" text-anchor="end" fill="#363636" stroke="#363636" stroke-width="0.12">100</text>
<line x1="298.4" x2="300.7" y1="192.42" y2="192.42" stroke="#363636" stroke-width="0.5"/>
<text x="297.9" y="194.87" font-size="6.7" text-anchor="end" fill="#363636" stroke="#363636" stroke-width="0.12">150</text>
<line x1="298.4" x2="300.7" y1="181.56" y2="181.56" stroke="#363636" stroke-width="0.5"/>
<text x="297.9" y="184.01" font-size="6.7" text-anchor="end" fill="#363636" stroke="#363636" stroke-width="0.12">200</text>
<line x1="298.4" x2="300.7" y1="170.7" y2="170.7" stroke="#363636" stroke-width="0.5"/>
<text x="297.9" y="173.15" font-size="6.7" text-anchor="end" fill="#363636" stroke="#363636" stroke-width="0.12">250</text>
<line x1="306.4" x2="306.4" y1="225" y2="226.8" stroke="#999" stroke-width="0.5"/>
<text transform="translate(308.05,234.35) rotate(-32)" font-size="6.7" text-anchor="end" fill="#363636" stroke="#363636" stroke-width="0.1">1.0<tspan font-weight="bold">×</tspan>10<tspan font-size="4.7" dy="-3.3">1</tspan></text>
<line x1="316.4" x2="316.4" y1="225" y2="226.8" stroke="#999" stroke-width="0.5"/>
<text transform="translate(318.05,234.35) rotate(-32)" font-size="6.7" text-anchor="end" fill="#363636" stroke="#363636" stroke-width="0.1">1.0<tspan font-weight="bold">×</tspan>10<tspan font-size="4.7" dy="-3.3">2</tspan></text>
<line x1="326.4" x2="326.4" y1="225" y2="226.8" stroke="#999" stroke-width="0.5"/>
<text transform="translate(328.05,234.35) rotate(-32)" font-size="6.7" text-anchor="end" fill="#363636" stroke="#363636" stroke-width="0.1">1.0<tspan font-weight="bold">×</tspan>10<tspan font-size="4.7" dy="-3.3">3</tspan></text>
<line x1="336.4" x2="336.4" y1="225" y2="226.8" stroke="#999" stroke-width="0.5"/>
<text transform="translate(338.05,234.35) rotate(-32)" font-size="6.7" text-anchor="end" fill="#363636" stroke="#363636" stroke-width="0.1">1.0<tspan font-weight="bold">×</tspan>10<tspan font-size="4.7" dy="-3.3">4</tspan></text>
<line x1="346.4" x2="346.4" y1="225" y2="226.8" stroke="#999" stroke-width="0.5"/>
<text transform="translate(348.05,234.35) rotate(-32)" font-size="6.7" text-anchor="end" fill="#363636" stroke="#363636" stroke-width="0.1">1.0<tspan font-weight="bold">×</tspan>10<tspan font-size="4.7" dy="-3.3">5</tspan></text>
<line x1="356.4" x2="356.4" y1="225" y2="226.8" stroke="#999" stroke-width="0.5"/>
<text transform="translate(358.05,234.35) rotate(-32)" font-size="6.7" text-anchor="end" fill="#363636" stroke="#363636" stroke-width="0.1">1.0<tspan font-weight="bold">×</tspan>10<tspan font-size="4.7" dy="-3.3">6</tspan></text>
<line x1="366.4" x2="366.4" y1="225" y2="226.8" stroke="#999" stroke-width="0.5"/>
<text transform="translate(368.05,234.35) rotate(-32)" font-size="6.7" text-anchor="end" fill="#363636" stroke="#363636" stroke-width="0.1">1.0<tspan font-weight="bold">×</tspan>10<tspan font-size="4.7" dy="-3.3">7</tspan></text>
<line x1="376.4" x2="376.4" y1="225" y2="226.8" stroke="#999" stroke-width="0.5"/>
<text transform="translate(378.05,234.35) rotate(-32)" font-size="6.7" text-anchor="end" fill="#363636" stroke="#363636" stroke-width="0.1">Neg</text>
<text x="343.4" y="256.2" font-size="7.3" font-weight="bold" text-anchor="middle" fill="#111" stroke="#111" stroke-width="0.15">Dilution ratio</text>
<rect x="384.6" y="172.6" width="6" height="4.8" fill="#D6446F"/>
<rect x="384.6" y="180.1" width="6" height="4.6" fill="#0E9743"/>
<text x="393.9" y="177" font-size="5.9" fill="#1a1a1a" stroke="#1a1a1a" class="r">SSNB</text>
<text x="393.9" y="184.2" font-size="5.9" fill="#1a1a1a" stroke="#1a1a1a" class="r">MHG</text>
<text x="436.3" y="149.5" font-size="15" font-weight="bold" fill="#000">i</text>
<text x="480.9" y="159.8" font-size="8.2" font-weight="bold" text-anchor="middle" fill="#000" stroke="#000" stroke-width="0.2">E30</text>
<text transform="translate(421.35,196.15) rotate(-90)" font-size="7.5" font-weight="bold" text-anchor="middle" fill="#111">MFI</text>
<rect x="439.4" y="170.7" width="82" height="54.3" fill="#EBEBEB"/>
<line x1="439.4" x2="521.4" y1="225" y2="225" stroke="#fff" stroke-width="0.5" stroke-opacity="0.75"/>
<line x1="439.4" x2="521.4" y1="206.9" y2="206.9" stroke="#fff" stroke-width="0.5" stroke-opacity="0.75"/>
<line x1="439.4" x2="521.4" y1="188.8" y2="188.8" stroke="#fff" stroke-width="0.5" stroke-opacity="0.75"/>
<line x1="439.4" x2="521.4" y1="170.7" y2="170.7" stroke="#fff" stroke-width="0.5" stroke-opacity="0.75"/>
<line x1="444.8" x2="444.8" y1="170.7" y2="225" stroke="#fff" stroke-width="0.5" stroke-opacity="0.75"/>
<line x1="454.8" x2="454.8" y1="170.7" y2="225" stroke="#fff" stroke-width="0.5" stroke-opacity="0.75"/>
<line x1="464.8" x2="464.8" y1="170.7" y2="225" stroke="#fff" stroke-width="0.5" stroke-opacity="0.75"/>
<line x1="474.8" x2="474.8" y1="170.7" y2="225" stroke="#fff" stroke-width="0.5" stroke-opacity="0.75"/>
<line x1="484.8" x2="484.8" y1="170.7" y2="225" stroke="#fff" stroke-width="0.5" stroke-opacity="0.75"/>
<line x1="494.8" x2="494.8" y1="170.7" y2="225" stroke="#fff" stroke-width="0.5" stroke-opacity="0.75"/>
<line x1="504.8" x2="504.8" y1="170.7" y2="225" stroke="#fff" stroke-width="0.5" stroke-opacity="0.75"/>
<line x1="514.8" x2="514.8" y1="170.7" y2="225" stroke="#fff" stroke-width="0.5" stroke-opacity="0.75"/>
<rect x="439.4" y="218.12" width="82" height="8.18" fill="#D6446F" fill-opacity="0.25"/>
<rect x="440.3" y="193.51" width="4.5" height="31.49" fill="#D6446F"/>
<rect x="444.8" y="224.28" width="4.5" height="0.72" fill="#0E9743"/>
<rect x="450.3" y="196.04" width="4.5" height="28.96" fill="#D6446F"/>
<rect x="454.8" y="223.91" width="4.5" height="1.09" fill="#0E9743"/>
<rect x="460.3" y="210.16" width="4.5" height="14.84" fill="#D6446F"/>
<rect x="464.8" y="224.28" width="4.5" height="0.72" fill="#0E9743"/>
<rect x="470.3" y="215.59" width="4.5" height="9.41" fill="#D6446F"/>
<rect x="474.8" y="223.91" width="4.5" height="1.09" fill="#0E9743"/>
<rect x="480.3" y="216.13" width="4.5" height="8.87" fill="#D6446F"/>
<rect x="484.8" y="224.28" width="4.5" height="0.72" fill="#0E9743"/>
<rect x="490.3" y="220.66" width="4.5" height="4.34" fill="#D6446F"/>
<rect x="494.8" y="223.91" width="4.5" height="1.09" fill="#0E9743"/>
<rect x="500.3" y="220.66" width="4.5" height="4.34" fill="#D6446F"/>
<rect x="504.8" y="224.28" width="4.5" height="0.72" fill="#0E9743"/>
<rect x="510.3" y="221.02" width="4.5" height="3.98" fill="#D6446F"/>
<rect x="514.8" y="223.91" width="4.5" height="1.09" fill="#0E9743"/>
<rect x="439.4" y="223.37" width="82" height="2.93" fill="#0E9743" fill-opacity="0.6"/>
<line x1="442.55" x2="442.55" y1="184.46" y2="202.56" stroke="#000" stroke-width="0.45"/>
<line x1="441.45" x2="443.65" y1="184.46" y2="184.46" stroke="#000" stroke-width="0.45"/>
<circle cx="441.95" cy="188.08" r="0.45" fill="#111"/>
<circle cx="443.05" cy="196.22" r="0.45" fill="#111"/>
<circle cx="442.55" cy="200.75" r="0.45" fill="#111"/>
<line x1="447.05" x2="447.05" y1="222.83" y2="225" stroke="#000" stroke-width="0.45"/>
<line x1="445.95" x2="448.15" y1="222.83" y2="222.83" stroke="#000" stroke-width="0.45"/>
<circle cx="446.45" cy="223.41" r="0.45" fill="#111"/>
<circle cx="447.55" cy="224.71" r="0.45" fill="#111"/>
<circle cx="447.05" cy="224.89" r="0.45" fill="#111"/>
<line x1="452.55" x2="452.55" y1="186.63" y2="205.45" stroke="#000" stroke-width="0.45"/>
<line x1="451.45" x2="453.65" y1="186.63" y2="186.63" stroke="#000" stroke-width="0.45"/>
<circle cx="451.95" cy="190.39" r="0.45" fill="#111"/>
<circle cx="453.05" cy="198.86" r="0.45" fill="#111"/>
<circle cx="452.55" cy="203.57" r="0.45" fill="#111"/>
<line x1="457.05" x2="457.05" y1="222.47" y2="225" stroke="#000" stroke-width="0.45"/>
<line x1="455.95" x2="458.15" y1="222.47" y2="222.47" stroke="#000" stroke-width="0.45"/>
<circle cx="456.45" cy="223.05" r="0.45" fill="#111"/>
<circle cx="457.55" cy="224.35" r="0.45" fill="#111"/>
<circle cx="457.05" cy="224.89" r="0.45" fill="#111"/>
<line x1="462.55" x2="462.55" y1="200.75" y2="219.57" stroke="#000" stroke-width="0.45"/>
<line x1="461.45" x2="463.65" y1="200.75" y2="200.75" stroke="#000" stroke-width="0.45"/>
<circle cx="461.95" cy="204.51" r="0.45" fill="#111"/>
<circle cx="463.05" cy="212.98" r="0.45" fill="#111"/>
<circle cx="462.55" cy="217.69" r="0.45" fill="#111"/>
<line x1="467.05" x2="467.05" y1="223.19" y2="225" stroke="#000" stroke-width="0.45"/>
<line x1="465.95" x2="468.15" y1="223.19" y2="223.19" stroke="#000" stroke-width="0.45"/>
<circle cx="466.45" cy="223.62" r="0.45" fill="#111"/>
<circle cx="467.55" cy="224.6" r="0.45" fill="#111"/>
<circle cx="467.05" cy="224.89" r="0.45" fill="#111"/>
<line x1="472.55" x2="472.55" y1="212.33" y2="218.85" stroke="#000" stroke-width="0.45"/>
<line x1="471.45" x2="473.65" y1="212.33" y2="212.33" stroke="#000" stroke-width="0.45"/>
<circle cx="471.95" cy="213.63" r="0.45" fill="#111"/>
<circle cx="473.05" cy="216.57" r="0.45" fill="#111"/>
<circle cx="472.55" cy="218.19" r="0.45" fill="#111"/>
<line x1="477.05" x2="477.05" y1="222.83" y2="225" stroke="#000" stroke-width="0.45"/>
<line x1="475.95" x2="478.15" y1="222.83" y2="222.83" stroke="#000" stroke-width="0.45"/>
<circle cx="476.45" cy="223.26" r="0.45" fill="#111"/>
<circle cx="477.55" cy="224.24" r="0.45" fill="#111"/>
<circle cx="477.05" cy="224.78" r="0.45" fill="#111"/>
<line x1="482.55" x2="482.55" y1="212.51" y2="219.75" stroke="#000" stroke-width="0.45"/>
<line x1="481.45" x2="483.65" y1="212.51" y2="212.51" stroke="#000" stroke-width="0.45"/>
<circle cx="481.95" cy="213.96" r="0.45" fill="#111"/>
<circle cx="483.05" cy="217.22" r="0.45" fill="#111"/>
<circle cx="482.55" cy="219.03" r="0.45" fill="#111"/>
<line x1="487.05" x2="487.05" y1="223.55" y2="225" stroke="#000" stroke-width="0.45"/>
<line x1="485.95" x2="488.15" y1="223.55" y2="223.55" stroke="#000" stroke-width="0.45"/>
<circle cx="486.45" cy="223.84" r="0.45" fill="#111"/>
<circle cx="487.55" cy="224.49" r="0.45" fill="#111"/>
<circle cx="487.05" cy="224.86" r="0.45" fill="#111"/>
<line x1="492.55" x2="492.55" y1="219.93" y2="221.38" stroke="#000" stroke-width="0.45"/>
<line x1="491.45" x2="493.65" y1="219.93" y2="219.93" stroke="#000" stroke-width="0.45"/>
<circle cx="491.95" cy="220.22" r="0.45" fill="#111"/>
<circle cx="493.05" cy="220.87" r="0.45" fill="#111"/>
<circle cx="492.55" cy="221.24" r="0.45" fill="#111"/>
<line x1="497.05" x2="497.05" y1="223.19" y2="224.64" stroke="#000" stroke-width="0.45"/>
<line x1="495.95" x2="498.15" y1="223.19" y2="223.19" stroke="#000" stroke-width="0.45"/>
<circle cx="496.45" cy="223.48" r="0.45" fill="#111"/>
<circle cx="497.55" cy="224.13" r="0.45" fill="#111"/>
<circle cx="497.05" cy="224.49" r="0.45" fill="#111"/>
<line x1="502.55" x2="502.55" y1="219.93" y2="221.38" stroke="#000" stroke-width="0.45"/>
<line x1="501.45" x2="503.65" y1="219.93" y2="219.93" stroke="#000" stroke-width="0.45"/>
<circle cx="501.95" cy="220.22" r="0.45" fill="#111"/>
<circle cx="503.05" cy="220.87" r="0.45" fill="#111"/>
<circle cx="502.55" cy="221.24" r="0.45" fill="#111"/>
<line x1="507.05" x2="507.05" y1="223.55" y2="225" stroke="#000" stroke-width="0.45"/>
<line x1="505.95" x2="508.15" y1="223.55" y2="223.55" stroke="#000" stroke-width="0.45"/>
<circle cx="506.45" cy="223.84" r="0.45" fill="#111"/>
<circle cx="507.55" cy="224.49" r="0.45" fill="#111"/>
<circle cx="507.05" cy="224.86" r="0.45" fill="#111"/>
<line x1="512.55" x2="512.55" y1="220.29" y2="221.74" stroke="#000" stroke-width="0.45"/>
<line x1="511.45" x2="513.65" y1="220.29" y2="220.29" stroke="#000" stroke-width="0.45"/>
<circle cx="511.95" cy="220.58" r="0.45" fill="#111"/>
<circle cx="513.05" cy="221.24" r="0.45" fill="#111"/>
<circle cx="512.55" cy="221.6" r="0.45" fill="#111"/>
<line x1="517.05" x2="517.05" y1="222.83" y2="225" stroke="#000" stroke-width="0.45"/>
<line x1="515.95" x2="518.15" y1="222.83" y2="222.83" stroke="#000" stroke-width="0.45"/>
<circle cx="516.45" cy="223.26" r="0.45" fill="#111"/>
<circle cx="517.55" cy="224.24" r="0.45" fill="#111"/>
<circle cx="517.05" cy="224.78" r="0.45" fill="#111"/>
<path d="M439.4,170.7H521.4V225" fill="none" stroke="#6A6A6A" stroke-width="0.75"/>
<line x1="439.4" x2="439.4" y1="170.7" y2="225" stroke="#6A6A6A" stroke-width="0.7"/>
<line x1="437.1" x2="439.4" y1="225" y2="225" stroke="#363636" stroke-width="0.5"/>
<text x="436.6" y="227.45" font-size="6.7" text-anchor="end" fill="#363636" stroke="#363636" stroke-width="0.12">0</text>
<line x1="437.1" x2="439.4" y1="206.9" y2="206.9" stroke="#363636" stroke-width="0.5"/>
<text x="436.6" y="209.35" font-size="6.7" text-anchor="end" fill="#363636" stroke="#363636" stroke-width="0.12">50</text>
<line x1="437.1" x2="439.4" y1="188.8" y2="188.8" stroke="#363636" stroke-width="0.5"/>
<text x="436.6" y="191.25" font-size="6.7" text-anchor="end" fill="#363636" stroke="#363636" stroke-width="0.12">100</text>
<line x1="437.1" x2="439.4" y1="170.7" y2="170.7" stroke="#363636" stroke-width="0.5"/>
<text x="436.6" y="173.15" font-size="6.7" text-anchor="end" fill="#363636" stroke="#363636" stroke-width="0.12">150</text>
<line x1="444.8" x2="444.8" y1="225" y2="226.8" stroke="#999" stroke-width="0.5"/>
<text transform="translate(446.45,234.35) rotate(-32)" font-size="6.7" text-anchor="end" fill="#363636" stroke="#363636" stroke-width="0.1">1.0<tspan font-weight="bold">×</tspan>10<tspan font-size="4.7" dy="-3.3">1</tspan></text>
<line x1="454.8" x2="454.8" y1="225" y2="226.8" stroke="#999" stroke-width="0.5"/>
<text transform="translate(456.45,234.35) rotate(-32)" font-size="6.7" text-anchor="end" fill="#363636" stroke="#363636" stroke-width="0.1">1.0<tspan font-weight="bold">×</tspan>10<tspan font-size="4.7" dy="-3.3">2</tspan></text>
<line x1="464.8" x2="464.8" y1="225" y2="226.8" stroke="#999" stroke-width="0.5"/>
<text transform="translate(466.45,234.35) rotate(-32)" font-size="6.7" text-anchor="end" fill="#363636" stroke="#363636" stroke-width="0.1">1.0<tspan font-weight="bold">×</tspan>10<tspan font-size="4.7" dy="-3.3">3</tspan></text>
<line x1="474.8" x2="474.8" y1="225" y2="226.8" stroke="#999" stroke-width="0.5"/>
<text transform="translate(476.45,234.35) rotate(-32)" font-size="6.7" text-anchor="end" fill="#363636" stroke="#363636" stroke-width="0.1">1.0<tspan font-weight="bold">×</tspan>10<tspan font-size="4.7" dy="-3.3">4</tspan></text>
<line x1="484.8" x2="484.8" y1="225" y2="226.8" stroke="#999" stroke-width="0.5"/>
<text transform="translate(486.45,234.35) rotate(-32)" font-size="6.7" text-anchor="end" fill="#363636" stroke="#363636" stroke-width="0.1">1.0<tspan font-weight="bold">×</tspan>10<tspan font-size="4.7" dy="-3.3">5</tspan></text>
<line x1="494.8" x2="494.8" y1="225" y2="226.8" stroke="#999" stroke-width="0.5"/>
<text transform="translate(496.45,234.35) rotate(-32)" font-size="6.7" text-anchor="end" fill="#363636" stroke="#363636" stroke-width="0.1">1.0<tspan font-weight="bold">×</tspan>10<tspan font-size="4.7" dy="-3.3">6</tspan></text>
<line x1="504.8" x2="504.8" y1="225" y2="226.8" stroke="#999" stroke-width="0.5"/>
<text transform="translate(506.45,234.35) rotate(-32)" font-size="6.7" text-anchor="end" fill="#363636" stroke="#363636" stroke-width="0.1">1.0<tspan font-weight="bold">×</tspan>10<tspan font-size="4.7" dy="-3.3">7</tspan></text>
<line x1="514.8" x2="514.8" y1="225" y2="226.8" stroke="#999" stroke-width="0.5"/>
<text transform="translate(516.45,234.35) rotate(-32)" font-size="6.7" text-anchor="end" fill="#363636" stroke="#363636" stroke-width="0.1">Neg</text>
<text x="482.3" y="256.2" font-size="7.3" font-weight="bold" text-anchor="middle" fill="#111" stroke="#111" stroke-width="0.15">Dilution ratio</text>
<rect x="523.3" y="172.6" width="6" height="4.8" fill="#D6446F"/>
<rect x="523.3" y="180.1" width="6" height="4.6" fill="#0E9743"/>
<text x="532.6" y="177" font-size="5.9" fill="#1a1a1a" stroke="#1a1a1a" class="r">SSNB</text>
<text x="532.6" y="184.2" font-size="5.9" fill="#1a1a1a" stroke="#1a1a1a" class="r">MHG</text>
<text x="574.6" y="149.5" font-size="15" font-weight="bold" fill="#000">j</text>
<text x="617.8" y="159.8" font-size="8.2" font-weight="bold" text-anchor="middle" fill="#000" stroke="#000" stroke-width="0.2">EV-D68</text>
<text transform="translate(561.7,196.15) rotate(-90)" font-size="7.5" font-weight="bold" text-anchor="middle" fill="#111">MFI</text>
<rect x="576.5" y="170.7" width="82" height="54.3" fill="#EBEBEB"/>
<line x1="576.5" x2="658.5" y1="225" y2="225" stroke="#fff" stroke-width="0.5" stroke-opacity="0.75"/>
<line x1="576.5" x2="658.5" y1="206.9" y2="206.9" stroke="#fff" stroke-width="0.5" stroke-opacity="0.75"/>
<line x1="576.5" x2="658.5" y1="188.8" y2="188.8" stroke="#fff" stroke-width="0.5" stroke-opacity="0.75"/>
<line x1="576.5" x2="658.5" y1="170.7" y2="170.7" stroke="#fff" stroke-width="0.5" stroke-opacity="0.75"/>
<line x1="581.9" x2="581.9" y1="170.7" y2="225" stroke="#fff" stroke-width="0.5" stroke-opacity="0.75"/>
<line x1="591.9" x2="591.9" y1="170.7" y2="225" stroke="#fff" stroke-width="0.5" stroke-opacity="0.75"/>
<line x1="601.9" x2="601.9" y1="170.7" y2="225" stroke="#fff" stroke-width="0.5" stroke-opacity="0.75"/>
<line x1="611.9" x2="611.9" y1="170.7" y2="225" stroke="#fff" stroke-width="0.5" stroke-opacity="0.75"/>
<line x1="621.9" x2="621.9" y1="170.7" y2="225" stroke="#fff" stroke-width="0.5" stroke-opacity="0.75"/>
<line x1="631.9" x2="631.9" y1="170.7" y2="225" stroke="#fff" stroke-width="0.5" stroke-opacity="0.75"/>
<line x1="641.9" x2="641.9" y1="170.7" y2="225" stroke="#fff" stroke-width="0.5" stroke-opacity="0.75"/>
<line x1="651.9" x2="651.9" y1="170.7" y2="225" stroke="#fff" stroke-width="0.5" stroke-opacity="0.75"/>
<rect x="576.5" y="210.07" width="82" height="16.23" fill="#D6446F" fill-opacity="0.25"/>
<rect x="577.4" y="199.93" width="4.5" height="25.07" fill="#D6446F"/>
<rect x="581.9" y="217.4" width="4.5" height="7.6" fill="#0E9743"/>
<rect x="587.4" y="186.08" width="4.5" height="38.92" fill="#D6446F"/>
<rect x="591.9" y="216.85" width="4.5" height="8.15" fill="#0E9743"/>
<rect x="597.4" y="199.93" width="4.5" height="25.07" fill="#D6446F"/>
<rect x="601.9" y="216.85" width="4.5" height="8.15" fill="#0E9743"/>
<rect x="607.4" y="204.82" width="4.5" height="20.18" fill="#D6446F"/>
<rect x="611.9" y="217.76" width="4.5" height="7.24" fill="#0E9743"/>
<rect x="617.4" y="200.56" width="4.5" height="24.44" fill="#D6446F"/>
<rect x="621.9" y="217.76" width="4.5" height="7.24" fill="#0E9743"/>
<rect x="627.4" y="202.38" width="4.5" height="22.63" fill="#D6446F"/>
<rect x="631.9" y="219.21" width="4.5" height="5.79" fill="#0E9743"/>
<rect x="637.4" y="216.85" width="4.5" height="8.15" fill="#D6446F"/>
<rect x="641.9" y="216.85" width="4.5" height="8.15" fill="#0E9743"/>
<rect x="647.4" y="217.76" width="4.5" height="7.24" fill="#D6446F"/>
<rect x="651.9" y="217.76" width="4.5" height="7.24" fill="#0E9743"/>
<rect x="576.5" y="213.23" width="82" height="13.07" fill="#0E9743" fill-opacity="0.6"/>
<line x1="579.65" x2="579.65" y1="195.13" y2="204.73" stroke="#000" stroke-width="0.45"/>
<line x1="578.55" x2="580.75" y1="195.13" y2="195.13" stroke="#000" stroke-width="0.45"/>
<circle cx="579.05" cy="197.05" r="0.45" fill="#111"/>
<circle cx="580.15" cy="201.37" r="0.45" fill="#111"/>
<circle cx="579.65" cy="203.77" r="0.45" fill="#111"/>
<line x1="584.15" x2="584.15" y1="216.49" y2="218.3" stroke="#000" stroke-width="0.45"/>
<line x1="583.05" x2="585.25" y1="216.49" y2="216.49" stroke="#000" stroke-width="0.45"/>
<circle cx="583.55" cy="216.85" r="0.45" fill="#111"/>
<circle cx="584.65" cy="217.67" r="0.45" fill="#111"/>
<circle cx="584.15" cy="218.12" r="0.45" fill="#111"/>
<line x1="589.65" x2="589.65" y1="176.13" y2="196.04" stroke="#000" stroke-width="0.45"/>
<line x1="588.55" x2="590.75" y1="176.13" y2="176.13" stroke="#000" stroke-width="0.45"/>
<circle cx="589.05" cy="180.11" r="0.45" fill="#111"/>
<circle cx="590.15" cy="189.07" r="0.45" fill="#111"/>
<circle cx="589.65" cy="194.05" r="0.45" fill="#111"/>
<line x1="594.15" x2="594.15" y1="215.95" y2="217.76" stroke="#000" stroke-width="0.45"/>
<line x1="593.05" x2="595.25" y1="215.95" y2="215.95" stroke="#000" stroke-width="0.45"/>
<circle cx="593.55" cy="216.31" r="0.45" fill="#111"/>
<circle cx="594.65" cy="217.13" r="0.45" fill="#111"/>
<circle cx="594.15" cy="217.58" r="0.45" fill="#111"/>
<line x1="599.65" x2="599.65" y1="195.59" y2="204.28" stroke="#000" stroke-width="0.45"/>
<line x1="598.55" x2="600.75" y1="195.59" y2="195.59" stroke="#000" stroke-width="0.45"/>
<circle cx="599.05" cy="197.33" r="0.45" fill="#111"/>
<circle cx="600.15" cy="201.23" r="0.45" fill="#111"/>
<circle cx="599.65" cy="203.41" r="0.45" fill="#111"/>
<line x1="604.15" x2="604.15" y1="215.95" y2="217.76" stroke="#000" stroke-width="0.45"/>
<line x1="603.05" x2="605.25" y1="215.95" y2="215.95" stroke="#000" stroke-width="0.45"/>
<circle cx="603.55" cy="216.31" r="0.45" fill="#111"/>
<circle cx="604.65" cy="217.13" r="0.45" fill="#111"/>
<circle cx="604.15" cy="217.58" r="0.45" fill="#111"/>
<line x1="609.65" x2="609.65" y1="203.28" y2="206.36" stroke="#000" stroke-width="0.45"/>
<line x1="608.55" x2="610.75" y1="203.28" y2="203.28" stroke="#000" stroke-width="0.45"/>
<circle cx="609.05" cy="203.9" r="0.45" fill="#111"/>
<circle cx="610.15" cy="205.28" r="0.45" fill="#111"/>
<circle cx="609.65" cy="206.05" r="0.45" fill="#111"/>
<line x1="614.15" x2="614.15" y1="216.85" y2="218.66" stroke="#000" stroke-width="0.45"/>
<line x1="613.05" x2="615.25" y1="216.85" y2="216.85" stroke="#000" stroke-width="0.45"/>
<circle cx="613.55" cy="217.22" r="0.45" fill="#111"/>
<circle cx="614.65" cy="218.03" r="0.45" fill="#111"/>
<circle cx="614.15" cy="218.48" r="0.45" fill="#111"/>
<line x1="619.65" x2="619.65" y1="193.32" y2="207.81" stroke="#000" stroke-width="0.45"/>
<line x1="618.55" x2="620.75" y1="193.32" y2="193.32" stroke="#000" stroke-width="0.45"/>
<circle cx="619.05" cy="196.22" r="0.45" fill="#111"/>
<circle cx="620.15" cy="202.74" r="0.45" fill="#111"/>
<circle cx="619.65" cy="206.36" r="0.45" fill="#111"/>
<line x1="624.15" x2="624.15" y1="216.85" y2="218.66" stroke="#000" stroke-width="0.45"/>
<line x1="623.05" x2="625.25" y1="216.85" y2="216.85" stroke="#000" stroke-width="0.45"/>
<circle cx="623.55" cy="217.22" r="0.45" fill="#111"/>
<circle cx="624.65" cy="218.03" r="0.45" fill="#111"/>
<circle cx="624.15" cy="218.48" r="0.45" fill="#111"/>
<line x1="629.65" x2="629.65" y1="195.59" y2="209.16" stroke="#000" stroke-width="0.45"/>
<line x1="628.55" x2="630.75" y1="195.59" y2="195.59" stroke="#000" stroke-width="0.45"/>
<circle cx="629.05" cy="198.3" r="0.45" fill="#111"/>
<circle cx="630.15" cy="204.41" r="0.45" fill="#111"/>
<circle cx="629.65" cy="207.81" r="0.45" fill="#111"/>
<line x1="634.15" x2="634.15" y1="218.3" y2="220.11" stroke="#000" stroke-width="0.45"/>
<line x1="633.05" x2="635.25" y1="218.3" y2="218.3" stroke="#000" stroke-width="0.45"/>
<circle cx="633.55" cy="218.66" r="0.45" fill="#111"/>
<circle cx="634.65" cy="219.48" r="0.45" fill="#111"/>
<circle cx="634.15" cy="219.93" r="0.45" fill="#111"/>
<line x1="639.65" x2="639.65" y1="215.95" y2="217.76" stroke="#000" stroke-width="0.45"/>
<line x1="638.55" x2="640.75" y1="215.95" y2="215.95" stroke="#000" stroke-width="0.45"/>
<circle cx="639.05" cy="216.31" r="0.45" fill="#111"/>
<circle cx="640.15" cy="217.13" r="0.45" fill="#111"/>
<circle cx="639.65" cy="217.58" r="0.45" fill="#111"/>
<line x1="644.15" x2="644.15" y1="215.95" y2="217.76" stroke="#000" stroke-width="0.45"/>
<line x1="643.05" x2="645.25" y1="215.95" y2="215.95" stroke="#000" stroke-width="0.45"/>
<circle cx="643.55" cy="216.31" r="0.45" fill="#111"/>
<circle cx="644.65" cy="217.13" r="0.45" fill="#111"/>
<circle cx="644.15" cy="217.58" r="0.45" fill="#111"/>
<line x1="649.65" x2="649.65" y1="216.85" y2="218.66" stroke="#000" stroke-width="0.45"/>
<line x1="648.55" x2="650.75" y1="216.85" y2="216.85" stroke="#000" stroke-width="0.45"/>
<circle cx="649.05" cy="217.22" r="0.45" fill="#111"/>
<circle cx="650.15" cy="218.03" r="0.45" fill="#111"/>
<circle cx="649.65" cy="218.48" r="0.45" fill="#111"/>
<line x1="654.15" x2="654.15" y1="216.85" y2="218.66" stroke="#000" stroke-width="0.45"/>
<line x1="653.05" x2="655.25" y1="216.85" y2="216.85" stroke="#000" stroke-width="0.45"/>
<circle cx="653.55" cy="217.22" r="0.45" fill="#111"/>
<circle cx="654.65" cy="218.03" r="0.45" fill="#111"/>
<circle cx="654.15" cy="218.48" r="0.45" fill="#111"/>
<path d="M576.5,170.7H658.5V225" fill="none" stroke="#6A6A6A" stroke-width="0.75"/>
<line x1="576.5" x2="576.5" y1="170.7" y2="225" stroke="#6A6A6A" stroke-width="0.7"/>
<line x1="574.2" x2="576.5" y1="225" y2="225" stroke="#363636" stroke-width="0.5"/>
<text x="573.7" y="227.45" font-size="6.7" text-anchor="end" fill="#363636" stroke="#363636" stroke-width="0.12">0</text>
<line x1="574.2" x2="576.5" y1="206.9" y2="206.9" stroke="#363636" stroke-width="0.5"/>
<text x="573.7" y="209.35" font-size="6.7" text-anchor="end" fill="#363636" stroke="#363636" stroke-width="0.12">20</text>
<line x1="574.2" x2="576.5" y1="188.8" y2="188.8" stroke="#363636" stroke-width="0.5"/>
<text x="573.7" y="191.25" font-size="6.7" text-anchor="end" fill="#363636" stroke="#363636" stroke-width="0.12">40</text>
<line x1="574.2" x2="576.5" y1="170.7" y2="170.7" stroke="#363636" stroke-width="0.5"/>
<text x="573.7" y="173.15" font-size="6.7" text-anchor="end" fill="#363636" stroke="#363636" stroke-width="0.12">60</text>
<line x1="581.9" x2="581.9" y1="225" y2="226.8" stroke="#999" stroke-width="0.5"/>
<text transform="translate(583.55,234.35) rotate(-32)" font-size="6.7" text-anchor="end" fill="#363636" stroke="#363636" stroke-width="0.1">1.0<tspan font-weight="bold">×</tspan>10<tspan font-size="4.7" dy="-3.3">1</tspan></text>
<line x1="591.9" x2="591.9" y1="225" y2="226.8" stroke="#999" stroke-width="0.5"/>
<text transform="translate(593.55,234.35) rotate(-32)" font-size="6.7" text-anchor="end" fill="#363636" stroke="#363636" stroke-width="0.1">1.0<tspan font-weight="bold">×</tspan>10<tspan font-size="4.7" dy="-3.3">2</tspan></text>
<line x1="601.9" x2="601.9" y1="225" y2="226.8" stroke="#999" stroke-width="0.5"/>
<text transform="translate(603.55,234.35) rotate(-32)" font-size="6.7" text-anchor="end" fill="#363636" stroke="#363636" stroke-width="0.1">1.0<tspan font-weight="bold">×</tspan>10<tspan font-size="4.7" dy="-3.3">3</tspan></text>
<line x1="611.9" x2="611.9" y1="225" y2="226.8" stroke="#999" stroke-width="0.5"/>
<text transform="translate(613.55,234.35) rotate(-32)" font-size="6.7" text-anchor="end" fill="#363636" stroke="#363636" stroke-width="0.1">1.0<tspan font-weight="bold">×</tspan>10<tspan font-size="4.7" dy="-3.3">4</tspan></text>
<line x1="621.9" x2="621.9" y1="225" y2="226.8" stroke="#999" stroke-width="0.5"/>
<text transform="translate(623.55,234.35) rotate(-32)" font-size="6.7" text-anchor="end" fill="#363636" stroke="#363636" stroke-width="0.1">1.0<tspan font-weight="bold">×</tspan>10<tspan font-size="4.7" dy="-3.3">5</tspan></text>
<line x1="631.9" x2="631.9" y1="225" y2="226.8" stroke="#999" stroke-width="0.5"/>
<text transform="translate(633.55,234.35) rotate(-32)" font-size="6.7" text-anchor="end" fill="#363636" stroke="#363636" stroke-width="0.1">1.0<tspan font-weight="bold">×</tspan>10<tspan font-size="4.7" dy="-3.3">6</tspan></text>
<line x1="641.9" x2="641.9" y1="225" y2="226.8" stroke="#999" stroke-width="0.5"/>
<text transform="translate(643.55,234.35) rotate(-32)" font-size="6.7" text-anchor="end" fill="#363636" stroke="#363636" stroke-width="0.1">1.0<tspan font-weight="bold">×</tspan>10<tspan font-size="4.7" dy="-3.3">7</tspan></text>
<line x1="651.9" x2="651.9" y1="225" y2="226.8" stroke="#999" stroke-width="0.5"/>
<text transform="translate(653.55,234.35) rotate(-32)" font-size="6.7" text-anchor="end" fill="#363636" stroke="#363636" stroke-width="0.1">Neg</text>
<text x="618.9" y="256.2" font-size="7.3" font-weight="bold" text-anchor="middle" fill="#111" stroke="#111" stroke-width="0.15">Dilution ratio</text>
<rect x="660.4" y="172.6" width="6" height="4.8" fill="#D6446F"/>
<rect x="660.4" y="180.1" width="6" height="4.6" fill="#0E9743"/>
<text x="669.7" y="177" font-size="5.9" fill="#1a1a1a" stroke="#1a1a1a" class="r">SSNB</text>
<text x="669.7" y="184.2" font-size="5.9" fill="#1a1a1a" stroke="#1a1a1a" class="r">MHG</text>
</svg>
</body></html>
